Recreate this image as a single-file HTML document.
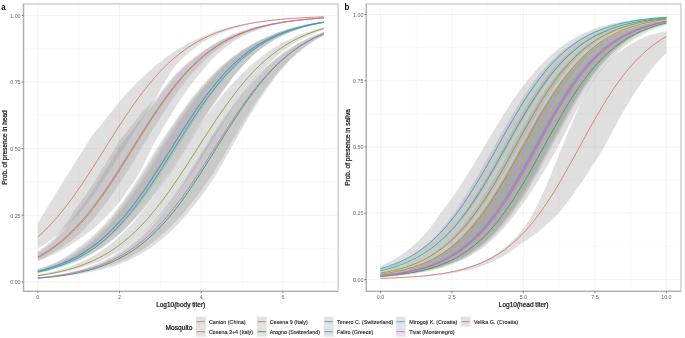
<!DOCTYPE html>
<html><head><meta charset="utf-8"><style>
html,body{margin:0;padding:0;background:#fff;width:685px;height:338px;overflow:hidden}
svg{display:block;filter:blur(0.35px)}
text{font-family:"Liberation Sans",sans-serif}
.gM{stroke:#ebebeb;stroke-width:0.6}
.gm{stroke:#f2f2f2;stroke-width:0.5}
.rb{fill:#999999;fill-opacity:0.31}
.kb{fill:#e2e2e6}
.ln{stroke-width:1.0;fill:none;stroke-opacity:0.85}
.bd{stroke:#cdcdcd;stroke-width:1.4}
.ax{stroke:#b0b0b0;stroke-width:1.3}
.tk{stroke:#555;stroke-width:0.7}
.tl{font-size:5.35px;fill:#6a6a6a}
.at{font-size:6.5px;fill:#111;stroke:#111;stroke-width:0.22px}
.pl{font-size:9.2px;font-weight:bold;fill:#000}
.lt{font-size:6.6px;fill:#111;stroke:#111;stroke-width:0.22px}
.ll{font-size:5.4px;fill:#222;stroke:#222;stroke-width:0.12px}
</style></head><body>
<svg width="685" height="338" viewBox="0 0 685 338">
<line x1="23.5" x2="338.1" y1="248.50" y2="248.50" class="gm"/>
<line x1="23.5" x2="338.1" y1="181.90" y2="181.90" class="gm"/>
<line x1="23.5" x2="338.1" y1="115.30" y2="115.30" class="gm"/>
<line x1="23.5" x2="338.1" y1="48.70" y2="48.70" class="gm"/>
<line x1="78.65" x2="78.65" y1="3.9" y2="291.4" class="gm"/>
<line x1="160.35" x2="160.35" y1="3.9" y2="291.4" class="gm"/>
<line x1="242.05" x2="242.05" y1="3.9" y2="291.4" class="gm"/>
<line x1="323.75" x2="323.75" y1="3.9" y2="291.4" class="gm"/>
<line x1="23.5" x2="338.1" y1="281.80" y2="281.80" class="gM"/>
<line x1="23.5" x2="338.1" y1="215.20" y2="215.20" class="gM"/>
<line x1="23.5" x2="338.1" y1="148.60" y2="148.60" class="gM"/>
<line x1="23.5" x2="338.1" y1="82.00" y2="82.00" class="gM"/>
<line x1="23.5" x2="338.1" y1="15.40" y2="15.40" class="gM"/>
<line x1="37.80" x2="37.80" y1="3.9" y2="291.4" class="gM"/>
<line x1="119.50" x2="119.50" y1="3.9" y2="291.4" class="gM"/>
<line x1="201.20" x2="201.20" y1="3.9" y2="291.4" class="gM"/>
<line x1="282.90" x2="282.90" y1="3.9" y2="291.4" class="gM"/>
<path d="M37.80,222.93 L40.18,219.17 L42.57,215.25 L44.95,211.16 L47.33,207.33 L49.71,203.67 L52.10,199.92 L54.48,196.07 L56.86,192.12 L59.25,188.09 L61.63,183.97 L64.01,180.21 L66.39,176.55 L68.78,172.86 L71.16,169.12 L73.54,165.36 L75.93,161.56 L78.31,157.75 L80.69,153.91 L83.08,150.07 L85.46,146.23 L87.84,142.39 L90.22,138.56 L92.61,135.34 L94.99,132.36 L97.37,129.41 L99.76,126.47 L102.14,123.55 L104.52,120.53 L106.90,117.45 L109.29,114.40 L111.67,111.39 L114.05,108.42 L116.44,105.49 L118.82,102.61 L121.20,99.78 L123.59,97.00 L125.97,94.33 L128.35,91.72 L130.73,89.15 L133.12,86.65 L135.50,84.19 L137.88,81.79 L140.27,79.45 L142.65,77.17 L145.03,74.92 L147.41,72.70 L149.80,70.54 L152.18,68.44 L154.56,66.40 L156.95,64.42 L159.33,62.50 L161.71,60.64 L164.09,58.84 L166.48,57.07 L168.86,55.34 L171.24,53.68 L173.63,52.07 L176.01,50.52 L178.39,49.03 L180.77,47.59 L183.16,46.21 L185.54,44.86 L187.92,43.55 L190.31,42.29 L192.69,41.08 L195.07,39.92 L197.46,38.81 L199.84,37.74 L202.22,36.69 L204.60,35.65 L206.99,34.65 L209.37,33.70 L211.75,32.79 L214.14,31.93 L216.52,31.10 L218.90,30.31 L221.28,29.56 L223.67,28.85 L226.05,28.17 L228.43,27.52 L230.82,26.91 L233.20,26.32 L235.58,25.76 L237.97,25.23 L240.35,24.73 L242.73,24.25 L245.11,23.78 L247.50,23.33 L249.88,22.91 L252.26,22.51 L254.65,22.13 L257.03,21.77 L259.41,21.43 L261.79,21.11 L264.18,20.80 L266.56,20.51 L268.94,20.24 L271.33,19.98 L273.71,19.73 L276.09,19.50 L278.47,19.28 L280.86,19.07 L283.24,18.87 L285.62,18.68 L288.01,18.50 L290.39,18.34 L292.77,18.18 L295.16,18.03 L297.54,17.88 L299.92,17.75 L302.30,17.62 L304.69,17.50 L307.07,17.39 L309.45,17.28 L311.84,17.18 L314.22,17.08 L316.60,16.99 L318.98,16.90 L321.37,16.82 L323.75,16.74 L323.75,16.91 L321.37,17.00 L318.98,17.10 L316.60,17.20 L314.22,17.31 L311.84,17.42 L309.45,17.54 L307.07,17.67 L304.69,17.80 L302.30,17.94 L299.92,18.09 L297.54,18.25 L295.16,18.42 L292.77,18.60 L290.39,18.79 L288.01,18.99 L285.62,19.20 L283.24,19.42 L280.86,19.66 L278.47,19.91 L276.09,20.17 L273.71,20.45 L271.33,20.75 L268.94,21.06 L266.56,21.39 L264.18,21.74 L261.79,22.11 L259.41,22.50 L257.03,22.91 L254.65,23.35 L252.26,23.81 L249.88,24.29 L247.50,24.81 L245.11,25.35 L242.73,25.92 L240.35,26.53 L237.97,27.19 L235.58,27.88 L233.20,28.61 L230.82,29.38 L228.43,30.20 L226.05,31.06 L223.67,31.96 L221.28,32.91 L218.90,33.92 L216.52,34.98 L214.14,36.09 L211.75,37.26 L209.37,38.49 L206.99,39.78 L204.60,41.14 L202.22,42.56 L199.84,44.12 L197.46,45.80 L195.07,47.57 L192.69,49.43 L190.31,51.37 L187.92,53.41 L185.54,55.55 L183.16,57.78 L180.77,60.11 L178.39,62.55 L176.01,65.09 L173.63,68.04 L171.24,71.57 L168.86,75.27 L166.48,79.14 L164.09,83.17 L161.71,87.37 L159.33,91.73 L156.95,96.25 L154.56,100.13 L152.18,103.79 L149.80,107.54 L147.41,111.35 L145.03,115.23 L142.65,118.97 L140.27,122.59 L137.88,126.25 L135.50,129.95 L133.12,133.68 L130.73,137.43 L128.35,141.20 L125.97,144.98 L123.59,148.77 L121.20,152.55 L118.82,156.34 L116.44,160.15 L114.05,163.94 L111.67,167.70 L109.29,171.43 L106.90,175.13 L104.52,178.78 L102.14,182.39 L99.76,185.94 L97.37,189.44 L94.99,192.87 L92.61,196.24 L90.22,199.55 L87.84,202.78 L85.46,205.93 L83.08,209.01 L80.69,212.01 L78.31,214.88 L75.93,217.35 L73.54,219.77 L71.16,222.12 L68.78,224.41 L66.39,226.63 L64.01,228.79 L61.63,230.88 L59.25,232.91 L56.86,234.88 L54.48,236.78 L52.10,238.66 L49.71,240.47 L47.33,242.22 L44.95,243.91 L42.57,245.54 L40.18,247.11 L37.80,248.62 Z" class="rb"/>
<path d="M37.80,252.99 L40.18,251.40 L42.57,249.73 L44.95,247.97 L47.33,246.14 L49.71,244.23 L52.10,242.23 L54.48,240.10 L56.86,237.68 L59.25,235.13 L61.63,232.48 L64.01,229.71 L66.39,226.83 L68.78,223.82 L71.16,220.70 L73.54,217.47 L75.93,214.12 L78.31,210.66 L80.69,207.42 L83.08,204.16 L85.46,200.82 L87.84,197.39 L90.22,193.89 L92.61,190.31 L94.99,186.67 L97.37,182.96 L99.76,179.20 L102.14,175.39 L104.52,171.52 L106.90,167.62 L109.29,163.69 L111.67,159.72 L114.05,155.74 L116.44,151.75 L118.82,147.75 L121.20,144.36 L123.59,141.24 L125.97,138.12 L128.35,135.01 L130.73,131.92 L133.12,128.84 L135.50,125.79 L137.88,122.76 L140.27,119.76 L142.65,116.79 L145.03,113.92 L147.41,111.20 L149.80,108.51 L152.18,105.85 L154.56,103.24 L156.95,100.39 L159.33,96.94 L161.71,93.56 L164.09,90.27 L166.48,87.07 L168.86,83.95 L171.24,80.92 L173.63,77.99 L176.01,75.33 L178.39,72.89 L180.77,70.53 L183.16,68.24 L185.54,66.02 L187.92,63.87 L190.31,61.79 L192.69,59.79 L195.07,57.85 L197.46,55.99 L199.84,54.19 L202.22,52.43 L204.60,50.72 L206.99,49.07 L209.37,47.49 L211.75,45.98 L214.14,44.52 L216.52,43.13 L218.90,41.80 L221.28,40.52 L223.67,39.30 L226.05,38.14 L228.43,37.02 L230.82,35.96 L233.20,34.94 L235.58,33.97 L237.97,33.05 L240.35,32.16 L242.73,31.31 L245.11,30.49 L247.50,29.70 L249.88,28.96 L252.26,28.25 L254.65,27.57 L257.03,26.93 L259.41,26.32 L261.79,25.75 L264.18,25.20 L266.56,24.68 L268.94,24.18 L271.33,23.72 L273.71,23.27 L276.09,22.85 L278.47,22.45 L280.86,22.07 L283.24,21.71 L285.62,21.38 L288.01,21.05 L290.39,20.75 L292.77,20.46 L295.16,20.19 L297.54,19.93 L299.92,19.68 L302.30,19.45 L304.69,19.23 L307.07,19.02 L309.45,18.83 L311.84,18.64 L314.22,18.46 L316.60,18.30 L318.98,18.14 L321.37,17.99 L323.75,17.85 L323.75,18.16 L321.37,18.32 L318.98,18.50 L316.60,18.68 L314.22,18.88 L311.84,19.09 L309.45,19.31 L307.07,19.54 L304.69,19.79 L302.30,20.05 L299.92,20.33 L297.54,20.62 L295.16,20.93 L292.77,21.26 L290.39,21.61 L288.01,21.98 L285.62,22.37 L283.24,22.78 L280.86,23.21 L278.47,23.67 L276.09,24.16 L273.71,24.67 L271.33,25.21 L268.94,25.78 L266.56,26.39 L264.18,27.03 L261.79,27.70 L259.41,28.41 L257.03,29.16 L254.65,29.95 L252.26,30.78 L249.88,31.66 L247.50,32.58 L245.11,33.55 L242.73,34.57 L240.35,35.66 L237.97,36.82 L235.58,38.03 L233.20,39.31 L230.82,40.65 L228.43,42.05 L226.05,43.53 L223.67,45.08 L221.28,46.70 L218.90,48.40 L216.52,50.17 L214.14,52.03 L211.75,53.97 L209.37,56.00 L206.99,58.11 L204.60,60.31 L202.22,62.59 L199.84,64.99 L197.46,67.48 L195.07,70.07 L192.69,72.75 L190.31,75.53 L187.92,78.40 L185.54,81.37 L183.16,84.42 L180.77,87.57 L178.39,90.81 L176.01,94.13 L173.63,97.54 L171.24,101.02 L168.86,104.58 L166.48,108.14 L164.09,111.75 L161.71,115.42 L159.33,119.15 L156.95,122.92 L154.56,126.74 L152.18,130.60 L149.80,134.48 L147.41,138.39 L145.03,142.32 L142.65,146.26 L140.27,150.20 L137.88,154.14 L135.50,158.07 L133.12,161.94 L130.73,165.79 L128.35,169.61 L125.97,173.40 L123.59,177.14 L121.20,180.84 L118.82,184.49 L116.44,188.07 L114.05,191.60 L111.67,195.06 L109.29,198.45 L106.90,201.77 L104.52,205.01 L102.14,208.17 L99.76,211.25 L97.37,214.25 L94.99,217.16 L92.61,219.99 L90.22,222.72 L87.84,225.37 L85.46,227.93 L83.08,230.41 L80.69,232.79 L78.31,235.06 L75.93,237.07 L73.54,239.02 L71.16,240.89 L68.78,242.69 L66.39,244.43 L64.01,246.10 L61.63,247.71 L59.25,249.26 L56.86,250.75 L54.48,252.17 L52.10,253.54 L49.71,254.86 L47.33,256.11 L44.95,257.32 L42.57,258.47 L40.18,259.58 L37.80,260.64 Z" class="rb"/>
<path d="M37.80,251.42 L40.18,249.75 L42.57,248.01 L44.95,246.19 L47.33,244.29 L49.71,242.30 L52.10,240.22 L54.48,237.99 L56.86,235.22 L59.25,232.32 L61.63,229.27 L64.01,226.09 L66.39,222.77 L68.78,219.31 L71.16,215.71 L73.54,211.98 L75.93,208.54 L78.31,205.34 L80.69,202.05 L83.08,198.68 L85.46,195.23 L87.84,191.72 L90.22,188.13 L92.61,184.48 L94.99,180.77 L97.37,177.01 L99.76,173.20 L102.14,169.35 L104.52,165.46 L106.90,161.54 L109.29,157.60 L111.67,153.64 L114.05,149.68 L116.44,145.71 L118.82,141.75 L121.20,138.45 L123.59,135.42 L125.97,132.41 L128.35,129.41 L130.73,126.44 L133.12,123.49 L135.50,120.56 L137.88,117.66 L140.27,114.79 L142.65,111.95 L145.03,109.35 L147.41,107.05 L149.80,104.78 L152.18,102.54 L154.56,100.33 L156.95,97.78 L159.33,94.40 L161.71,91.11 L164.09,87.90 L166.48,84.77 L168.86,81.74 L171.24,78.79 L173.63,75.93 L176.01,73.38 L178.39,71.05 L180.77,68.79 L183.16,66.60 L185.54,64.48 L187.92,62.43 L190.31,60.45 L192.69,58.54 L195.07,56.69 L197.46,54.90 L199.84,53.18 L202.22,51.48 L204.60,49.80 L206.99,48.18 L209.37,46.63 L211.75,45.14 L214.14,43.71 L216.52,42.35 L218.90,41.04 L221.28,39.79 L223.67,38.60 L226.05,37.46 L228.43,36.37 L230.82,35.33 L233.20,34.34 L235.58,33.39 L237.97,32.49 L240.35,31.62 L242.73,30.80 L245.11,30.01 L247.50,29.25 L249.88,28.54 L252.26,27.85 L254.65,27.21 L257.03,26.59 L259.41,26.01 L261.79,25.45 L264.18,24.92 L266.56,24.42 L268.94,23.95 L271.33,23.49 L273.71,23.07 L276.09,22.66 L278.47,22.27 L280.86,21.91 L283.24,21.56 L285.62,21.23 L288.01,20.92 L290.39,20.63 L292.77,20.35 L295.16,20.08 L297.54,19.83 L299.92,19.60 L302.30,19.37 L304.69,19.16 L307.07,18.96 L309.45,18.76 L311.84,18.58 L314.22,18.41 L316.60,18.25 L318.98,18.10 L321.37,17.95 L323.75,17.81 L323.75,18.20 L321.37,18.37 L318.98,18.56 L316.60,18.75 L314.22,18.96 L311.84,19.18 L309.45,19.42 L307.07,19.67 L304.69,19.93 L302.30,20.21 L299.92,20.51 L297.54,20.82 L295.16,21.15 L292.77,21.51 L290.39,21.88 L288.01,22.28 L285.62,22.70 L283.24,23.14 L280.86,23.61 L278.47,24.11 L276.09,24.64 L273.71,25.20 L271.33,25.79 L268.94,26.42 L266.56,27.08 L264.18,27.78 L261.79,28.52 L259.41,29.31 L257.03,30.13 L254.65,31.00 L252.26,31.92 L249.88,32.89 L247.50,33.92 L245.11,34.99 L242.73,36.13 L240.35,37.40 L237.97,38.78 L235.58,40.24 L233.20,41.78 L230.82,43.40 L228.43,45.11 L226.05,46.91 L223.67,48.81 L221.28,50.80 L218.90,52.89 L216.52,55.08 L214.14,57.38 L211.75,59.79 L209.37,62.30 L206.99,64.92 L204.60,67.66 L202.22,70.51 L199.84,73.47 L197.46,76.55 L195.07,79.54 L192.69,82.60 L190.31,85.75 L187.92,89.00 L185.54,92.34 L183.16,95.77 L180.77,99.28 L178.39,102.91 L176.01,106.62 L173.63,110.40 L171.24,114.25 L168.86,118.16 L166.48,122.13 L164.09,126.15 L161.71,130.21 L159.33,134.31 L156.95,138.44 L154.56,142.58 L152.18,146.74 L149.80,151.73 L147.41,156.71 L145.03,161.67 L142.65,166.59 L140.27,171.47 L137.88,175.32 L135.50,178.97 L133.12,182.58 L130.73,186.13 L128.35,189.62 L125.97,193.05 L123.59,196.42 L121.20,199.72 L118.82,202.81 L116.44,205.52 L114.05,208.16 L111.67,210.75 L109.29,213.28 L106.90,215.75 L104.52,218.16 L102.14,220.51 L99.76,222.80 L97.37,225.02 L94.99,227.19 L92.61,229.29 L90.22,231.27 L87.84,233.04 L85.46,234.76 L83.08,236.43 L80.69,238.06 L78.31,239.66 L75.93,241.34 L73.54,242.97 L71.16,244.53 L68.78,246.05 L66.39,247.51 L64.01,248.93 L61.63,250.29 L59.25,251.60 L56.86,252.83 L54.48,253.99 L52.10,255.11 L49.71,256.19 L47.33,257.23 L44.95,258.24 L42.57,259.20 L40.18,260.13 L37.80,261.02 Z" class="rb"/>
<path d="M37.80,270.64 L40.18,269.97 L42.57,269.25 L44.95,268.50 L47.33,267.70 L49.71,266.86 L52.10,265.97 L54.48,265.03 L56.86,264.04 L59.25,263.00 L61.63,261.90 L64.01,260.74 L66.39,259.52 L68.78,258.23 L71.16,256.88 L73.54,255.46 L75.93,253.97 L78.31,252.40 L80.69,250.76 L83.08,249.04 L85.46,247.23 L87.84,245.36 L90.22,243.44 L92.61,241.44 L94.99,239.35 L97.37,237.17 L99.76,234.90 L102.14,232.55 L104.52,230.10 L106.90,227.57 L109.29,224.94 L111.67,222.22 L114.05,219.41 L116.44,216.50 L118.82,213.51 L121.20,210.43 L123.59,207.26 L125.97,204.01 L128.35,200.70 L130.73,197.36 L133.12,193.95 L135.50,190.47 L137.88,186.93 L140.27,183.32 L142.65,179.66 L145.03,175.95 L147.41,172.20 L149.80,168.41 L152.18,164.58 L154.56,160.73 L156.95,156.85 L159.33,152.96 L161.71,149.07 L164.09,145.17 L166.48,141.28 L168.86,137.40 L171.24,133.54 L173.63,129.81 L176.01,126.23 L178.39,122.68 L180.77,119.18 L183.16,115.71 L185.54,112.30 L187.92,108.93 L190.31,105.62 L192.69,102.37 L195.07,99.17 L197.46,96.05 L199.84,92.99 L202.22,89.99 L204.60,87.08 L206.99,84.23 L209.37,81.46 L211.75,78.76 L214.14,76.14 L216.52,73.60 L218.90,71.14 L221.28,68.75 L223.67,66.56 L226.05,64.46 L228.43,62.43 L230.82,60.46 L233.20,58.56 L235.58,56.73 L237.97,54.96 L240.35,53.25 L242.73,51.60 L245.11,50.02 L247.50,48.49 L249.88,47.03 L252.26,45.62 L254.65,44.26 L257.03,42.96 L259.41,41.71 L261.79,40.51 L264.18,39.31 L266.56,38.15 L268.94,37.03 L271.33,35.97 L273.71,34.95 L276.09,33.99 L278.47,33.06 L280.86,32.18 L283.24,31.34 L285.62,30.54 L288.01,29.78 L290.39,29.05 L292.77,28.36 L295.16,27.70 L297.54,27.07 L299.92,26.48 L302.30,25.91 L304.69,25.37 L307.07,24.86 L309.45,24.37 L311.84,23.91 L314.22,23.47 L316.60,23.05 L318.98,22.66 L321.37,22.28 L323.75,21.92 L323.75,22.95 L321.37,23.40 L318.98,23.89 L316.60,24.40 L314.22,24.94 L311.84,25.52 L309.45,26.12 L307.07,26.76 L304.69,27.44 L302.30,28.16 L299.92,28.91 L297.54,29.71 L295.16,30.55 L292.77,31.44 L290.39,32.38 L288.01,33.37 L285.62,34.41 L283.24,35.51 L280.86,36.66 L278.47,37.88 L276.09,39.16 L273.71,40.50 L271.33,41.91 L268.94,43.40 L266.56,44.95 L264.18,46.58 L261.79,48.30 L259.41,50.16 L257.03,52.09 L254.65,54.12 L252.26,56.25 L249.88,58.46 L247.50,60.77 L245.11,63.18 L242.73,65.69 L240.35,68.30 L237.97,71.01 L235.58,73.82 L233.20,76.73 L230.82,79.74 L228.43,82.85 L226.05,86.06 L223.67,89.36 L221.28,92.72 L218.90,95.91 L216.52,99.17 L214.14,102.51 L211.75,105.91 L209.37,109.37 L206.99,112.89 L204.60,116.47 L202.22,120.10 L199.84,123.77 L197.46,127.49 L195.07,131.23 L192.69,135.01 L190.31,138.81 L187.92,142.62 L185.54,146.44 L183.16,150.27 L180.77,154.09 L178.39,157.91 L176.01,161.71 L173.63,165.48 L171.24,169.17 L168.86,172.77 L166.48,176.34 L164.09,179.86 L161.71,183.34 L159.33,186.77 L156.95,190.14 L154.56,193.46 L152.18,196.72 L149.80,199.91 L147.41,203.03 L145.03,206.08 L142.65,209.06 L140.27,211.97 L137.88,214.80 L135.50,217.55 L133.12,220.23 L130.73,222.82 L128.35,225.34 L125.97,227.78 L123.59,230.13 L121.20,232.41 L118.82,234.60 L116.44,236.68 L114.05,238.69 L111.67,240.62 L109.29,242.49 L106.90,244.28 L104.52,246.00 L102.14,247.66 L99.76,249.25 L97.37,250.78 L94.99,252.24 L92.61,253.64 L90.22,254.99 L87.84,256.28 L85.46,257.51 L83.08,258.68 L80.69,259.81 L78.31,260.89 L75.93,261.91 L73.54,262.89 L71.16,263.83 L68.78,264.72 L66.39,265.57 L64.01,266.38 L61.63,267.16 L59.25,267.89 L56.86,268.60 L54.48,269.26 L52.10,269.90 L49.71,270.50 L47.33,271.08 L44.95,271.63 L42.57,272.15 L40.18,272.64 L37.80,273.11 Z" class="rb"/>
<path d="M37.80,269.64 L40.18,268.91 L42.57,268.14 L44.95,267.33 L47.33,266.47 L49.71,265.56 L52.10,264.61 L54.48,263.60 L56.86,262.53 L59.25,261.41 L61.63,260.23 L64.01,258.99 L66.39,257.69 L68.78,256.31 L71.16,254.87 L73.54,253.36 L75.93,251.77 L78.31,250.10 L80.69,248.36 L83.08,246.53 L85.46,244.62 L87.84,242.64 L90.22,240.62 L92.61,238.50 L94.99,236.30 L97.37,234.01 L99.76,231.63 L102.14,229.17 L104.52,226.61 L106.90,223.96 L109.29,221.22 L111.67,218.39 L114.05,215.47 L116.44,212.46 L118.82,209.37 L121.20,206.19 L123.59,202.92 L125.97,199.58 L128.35,196.18 L130.73,192.76 L133.12,189.28 L135.50,185.73 L137.88,182.13 L140.27,178.47 L142.65,174.76 L145.03,171.01 L147.41,167.23 L149.80,163.41 L152.18,159.57 L154.56,155.71 L156.95,151.84 L159.33,147.96 L161.71,144.09 L164.09,140.22 L166.48,136.36 L168.86,132.53 L171.24,128.72 L173.63,125.08 L176.01,121.66 L178.39,118.28 L180.77,114.94 L183.16,111.64 L185.54,108.39 L187.92,105.19 L190.31,102.04 L192.69,98.96 L195.07,95.93 L197.46,92.97 L199.84,90.08 L202.22,87.25 L204.60,84.49 L206.99,81.79 L209.37,79.17 L211.75,76.63 L214.14,74.15 L216.52,71.75 L218.90,69.42 L221.28,67.16 L223.67,65.00 L226.05,62.92 L228.43,60.90 L230.82,58.95 L233.20,57.07 L235.58,55.26 L237.97,53.51 L240.35,51.83 L242.73,50.21 L245.11,48.65 L247.50,47.16 L249.88,45.72 L252.26,44.33 L254.65,43.01 L257.03,41.74 L259.41,40.52 L261.79,39.35 L264.18,38.19 L266.56,37.07 L268.94,36.01 L271.33,34.99 L273.71,34.02 L276.09,33.09 L278.47,32.20 L280.86,31.36 L283.24,30.56 L285.62,29.79 L288.01,29.07 L290.39,28.37 L292.77,27.71 L295.16,27.08 L297.54,26.49 L299.92,25.92 L302.30,25.38 L304.69,24.86 L307.07,24.38 L309.45,23.91 L311.84,23.47 L314.22,23.05 L316.60,22.66 L318.98,22.28 L321.37,21.92 L323.75,21.58 L323.75,22.62 L321.37,23.07 L318.98,23.55 L316.60,24.05 L314.22,24.58 L311.84,25.15 L309.45,25.74 L307.07,26.38 L304.69,27.05 L302.30,27.75 L299.92,28.50 L297.54,29.30 L295.16,30.13 L292.77,31.02 L290.39,31.95 L288.01,32.94 L285.62,33.98 L283.24,35.08 L280.86,36.23 L278.47,37.45 L276.09,38.74 L273.71,40.09 L271.33,41.51 L268.94,43.00 L266.56,44.57 L264.18,46.21 L261.79,47.96 L259.41,49.86 L257.03,51.85 L254.65,53.93 L252.26,56.12 L249.88,58.40 L247.50,60.79 L245.11,63.28 L242.73,65.87 L240.35,68.58 L237.97,71.38 L235.58,74.30 L233.20,77.33 L230.82,80.46 L228.43,83.69 L226.05,87.03 L223.67,90.47 L221.28,93.97 L218.90,97.25 L216.52,100.61 L214.14,104.05 L211.75,107.55 L209.37,111.11 L206.99,114.74 L204.60,118.41 L202.22,122.14 L199.84,125.91 L197.46,129.72 L195.07,133.56 L192.69,137.43 L190.31,141.31 L187.92,145.21 L185.54,149.12 L183.16,153.02 L180.77,156.91 L178.39,160.80 L176.01,164.66 L173.63,168.49 L171.24,172.10 L168.86,175.54 L166.48,178.95 L164.09,182.31 L161.71,185.62 L159.33,188.89 L156.95,192.11 L154.56,195.26 L152.18,198.37 L149.80,201.40 L147.41,204.38 L145.03,207.29 L142.65,210.13 L140.27,212.90 L137.88,215.60 L135.50,218.23 L133.12,220.79 L130.73,223.27 L128.35,225.68 L125.97,228.02 L123.59,230.28 L121.20,232.47 L118.82,234.57 L116.44,236.55 L114.05,238.47 L111.67,240.32 L109.29,242.11 L106.90,243.83 L104.52,245.49 L102.14,247.09 L99.76,248.62 L97.37,250.10 L94.99,251.52 L92.61,252.89 L90.22,254.20 L87.84,255.46 L85.46,256.67 L83.08,257.82 L80.69,258.93 L78.31,259.99 L75.93,261.01 L73.54,261.98 L71.16,262.92 L68.78,263.81 L66.39,264.66 L64.01,265.47 L61.63,266.25 L59.25,266.99 L56.86,267.70 L54.48,268.38 L52.10,269.03 L49.71,269.64 L47.33,270.23 L44.95,270.79 L42.57,271.33 L40.18,271.84 L37.80,272.32 Z" class="rb"/>
<path d="M37.80,269.04 L40.18,268.29 L42.57,267.50 L44.95,266.66 L47.33,265.77 L49.71,264.84 L52.10,263.85 L54.48,262.81 L56.86,261.72 L59.25,260.52 L61.63,259.19 L64.01,257.78 L66.39,256.30 L68.78,254.73 L71.16,253.07 L73.54,251.33 L75.93,249.50 L78.31,247.57 L80.69,245.78 L83.08,243.96 L85.46,242.05 L87.84,240.07 L90.22,238.01 L92.61,235.86 L94.99,233.64 L97.37,231.33 L99.76,228.94 L102.14,226.46 L104.52,223.90 L106.90,221.25 L109.29,218.52 L111.67,215.71 L114.05,212.81 L116.44,209.83 L118.82,206.78 L121.20,203.56 L123.59,200.23 L125.97,196.83 L128.35,193.35 L130.73,189.81 L133.12,186.19 L135.50,182.52 L137.88,178.79 L140.27,175.00 L142.65,171.18 L145.03,167.31 L147.41,163.42 L149.80,159.49 L152.18,155.55 L154.56,151.59 L156.95,147.74 L159.33,144.15 L161.71,140.56 L164.09,136.99 L166.48,133.43 L168.86,129.90 L171.24,126.39 L173.63,122.91 L176.01,119.47 L178.39,116.07 L180.77,112.71 L183.16,109.40 L185.54,106.15 L187.92,102.95 L190.31,99.85 L192.69,96.86 L195.07,93.92 L197.46,91.04 L199.84,88.23 L202.22,85.49 L204.60,82.81 L206.99,80.20 L209.37,77.66 L211.75,75.19 L214.14,72.79 L216.52,70.46 L218.90,68.20 L221.28,66.02 L223.67,63.95 L226.05,61.95 L228.43,60.03 L230.82,58.16 L233.20,56.36 L235.58,54.62 L237.97,52.95 L240.35,51.33 L242.73,49.77 L245.11,48.27 L247.50,46.83 L249.88,45.44 L252.26,44.11 L254.65,42.83 L257.03,41.60 L259.41,40.42 L261.79,39.28 L264.18,38.15 L266.56,37.05 L268.94,36.00 L271.33,34.99 L273.71,34.03 L276.09,33.11 L278.47,32.24 L280.86,31.40 L283.24,30.61 L285.62,29.85 L288.01,29.13 L290.39,28.44 L292.77,27.78 L295.16,27.16 L297.54,26.57 L299.92,26.00 L302.30,25.46 L304.69,24.95 L307.07,24.47 L309.45,24.00 L311.84,23.56 L314.22,23.15 L316.60,22.75 L318.98,22.37 L321.37,22.01 L323.75,21.67 L323.75,22.59 L321.37,23.01 L318.98,23.45 L316.60,23.92 L314.22,24.42 L311.84,24.94 L309.45,25.49 L307.07,26.08 L304.69,26.69 L302.30,27.34 L299.92,28.03 L297.54,28.75 L295.16,29.51 L292.77,30.31 L290.39,31.15 L288.01,32.04 L285.62,32.98 L283.24,33.96 L280.86,35.00 L278.47,36.08 L276.09,37.23 L273.71,38.43 L271.33,39.69 L268.94,41.01 L266.56,42.39 L264.18,43.84 L261.79,45.36 L259.41,46.94 L257.03,48.59 L254.65,50.31 L252.26,52.11 L249.88,53.98 L247.50,55.94 L245.11,57.97 L242.73,60.09 L240.35,62.29 L237.97,64.58 L235.58,66.95 L233.20,69.40 L230.82,71.95 L228.43,74.57 L226.05,77.29 L223.67,80.09 L221.28,82.97 L218.90,85.93 L216.52,88.97 L214.14,92.09 L211.75,95.29 L209.37,98.56 L206.99,101.91 L204.60,105.32 L202.22,108.80 L199.84,112.33 L197.46,115.93 L195.07,119.57 L192.69,123.27 L190.31,127.00 L187.92,130.77 L185.54,134.56 L183.16,138.38 L180.77,142.22 L178.39,146.07 L176.01,149.92 L173.63,153.77 L171.24,157.58 L168.86,161.34 L166.48,165.08 L164.09,168.80 L161.71,172.48 L159.33,176.13 L156.95,179.73 L154.56,183.29 L152.18,186.79 L149.80,190.24 L147.41,193.63 L145.03,196.95 L142.65,200.20 L140.27,203.39 L137.88,206.50 L135.50,209.53 L133.12,212.49 L130.73,215.36 L128.35,218.16 L125.97,220.87 L123.59,223.50 L121.20,226.05 L118.82,228.50 L116.44,230.84 L114.05,233.10 L111.67,235.27 L109.29,237.37 L106.90,239.40 L104.52,241.35 L102.14,243.22 L99.76,245.02 L97.37,246.75 L94.99,248.42 L92.61,250.01 L90.22,251.54 L87.84,253.00 L85.46,254.40 L83.08,255.74 L80.69,257.02 L78.31,258.24 L75.93,259.41 L73.54,260.53 L71.16,261.59 L68.78,262.61 L66.39,263.58 L64.01,264.50 L61.63,265.38 L59.25,266.22 L56.86,267.02 L54.48,267.77 L52.10,268.50 L49.71,269.18 L47.33,269.84 L44.95,270.46 L42.57,271.05 L40.18,271.61 L37.80,272.14 Z" class="rb"/>
<path d="M37.80,274.71 L40.18,274.30 L42.57,273.85 L44.95,273.39 L47.33,272.89 L49.71,272.37 L52.10,271.82 L54.48,271.24 L56.86,270.63 L59.25,269.98 L61.63,269.30 L64.01,268.57 L66.39,267.81 L68.78,267.01 L71.16,266.17 L73.54,265.28 L75.93,264.34 L78.31,263.35 L80.69,262.32 L83.08,261.23 L85.46,260.08 L87.84,258.87 L90.22,257.61 L92.61,256.28 L94.99,254.89 L97.37,253.43 L99.76,251.90 L102.14,250.30 L104.52,248.63 L106.90,246.88 L109.29,245.05 L111.67,243.15 L114.05,241.16 L116.44,239.09 L118.82,236.93 L121.20,234.72 L123.59,232.44 L125.97,230.07 L128.35,227.61 L130.73,225.07 L133.12,222.45 L135.50,219.74 L137.88,216.94 L140.27,214.06 L142.65,211.10 L145.03,208.05 L147.41,204.93 L149.80,201.73 L152.18,198.45 L154.56,195.10 L156.95,191.69 L159.33,188.21 L161.71,184.67 L164.09,181.07 L166.48,177.42 L168.86,173.73 L171.24,169.99 L173.63,166.22 L176.01,162.42 L178.39,158.60 L180.77,154.76 L183.16,150.92 L185.54,147.06 L187.92,143.22 L190.31,139.37 L192.69,135.55 L195.07,131.75 L197.46,128.03 L199.84,124.72 L202.22,121.43 L204.60,118.18 L206.99,114.96 L209.37,111.79 L211.75,108.66 L214.14,105.58 L216.52,102.55 L218.90,99.57 L221.28,96.65 L223.67,93.79 L226.05,90.99 L228.43,88.24 L230.82,85.56 L233.20,82.95 L235.58,80.40 L237.97,77.91 L240.35,75.50 L242.73,73.13 L245.11,70.79 L247.50,68.52 L249.88,66.32 L252.26,64.20 L254.65,62.14 L257.03,60.15 L259.41,58.23 L261.79,56.38 L264.18,54.59 L266.56,52.87 L268.94,51.21 L271.33,49.61 L273.71,48.08 L276.09,46.60 L278.47,45.18 L280.86,43.82 L283.24,42.52 L285.62,41.26 L288.01,40.06 L290.39,38.91 L292.77,37.81 L295.16,36.76 L297.54,35.75 L299.92,34.78 L302.30,33.86 L304.69,32.98 L307.07,32.14 L309.45,31.33 L311.84,30.56 L314.22,29.83 L316.60,29.13 L318.98,28.46 L321.37,27.83 L323.75,27.22 L323.75,29.69 L321.37,30.51 L318.98,31.37 L316.60,32.28 L314.22,33.24 L311.84,34.24 L309.45,35.30 L307.07,36.42 L304.69,37.58 L302.30,38.81 L299.92,40.10 L297.54,41.45 L295.16,42.87 L292.77,44.36 L290.39,45.91 L288.01,47.54 L285.62,49.25 L283.24,51.02 L280.86,52.88 L278.47,54.82 L276.09,56.84 L273.71,58.94 L271.33,61.13 L268.94,63.41 L266.56,65.77 L264.18,68.22 L261.79,70.76 L259.41,73.39 L257.03,76.11 L254.65,78.91 L252.26,81.81 L249.88,84.79 L247.50,87.85 L245.11,91.00 L242.73,94.23 L240.35,97.53 L237.97,100.90 L235.58,104.34 L233.20,107.85 L230.82,111.42 L228.43,115.05 L226.05,118.73 L223.67,122.47 L221.28,126.24 L218.90,130.06 L216.52,133.90 L214.14,137.77 L211.75,141.66 L209.37,145.56 L206.99,149.47 L204.60,153.37 L202.22,157.27 L199.84,161.15 L197.46,165.01 L195.07,168.61 L192.69,172.14 L190.31,175.63 L187.92,179.09 L185.54,182.51 L183.16,185.87 L180.77,189.19 L178.39,192.45 L176.01,195.66 L173.63,198.80 L171.24,201.88 L168.86,204.90 L166.48,207.84 L164.09,210.71 L161.71,213.52 L159.33,216.25 L156.95,218.90 L154.56,221.48 L152.18,223.98 L149.80,226.41 L147.41,228.76 L145.03,231.04 L142.65,233.24 L140.27,235.36 L137.88,237.41 L135.50,239.39 L133.12,241.30 L130.73,243.13 L128.35,244.90 L125.97,246.60 L123.59,248.23 L121.20,249.79 L118.82,251.29 L116.44,252.69 L114.05,254.04 L111.67,255.33 L109.29,256.57 L106.90,257.76 L104.52,258.89 L102.14,259.98 L99.76,261.02 L97.37,262.02 L94.99,262.97 L92.61,263.87 L90.22,264.74 L87.84,265.57 L85.46,266.36 L83.08,267.11 L80.69,267.83 L78.31,268.52 L75.93,269.17 L73.54,269.80 L71.16,270.39 L68.78,270.96 L66.39,271.50 L64.01,272.01 L61.63,272.50 L59.25,272.96 L56.86,273.40 L54.48,273.83 L52.10,274.23 L49.71,274.61 L47.33,274.97 L44.95,275.31 L42.57,275.64 L40.18,275.95 L37.80,276.25 Z" class="rb"/>
<path d="M37.80,277.86 L40.18,277.62 L42.57,277.37 L44.95,277.10 L47.33,276.81 L49.71,276.51 L52.10,276.19 L54.48,275.85 L56.86,275.49 L59.25,275.11 L61.63,274.71 L64.01,274.28 L66.39,273.83 L68.78,273.35 L71.16,272.85 L73.54,272.31 L75.93,271.75 L78.31,271.15 L80.69,270.52 L83.08,269.85 L85.46,269.15 L87.84,268.40 L90.22,267.62 L92.61,266.79 L94.99,265.91 L97.37,264.99 L99.76,264.02 L102.14,263.00 L104.52,261.92 L106.90,260.78 L109.29,259.59 L111.67,258.34 L114.05,257.02 L116.44,255.64 L118.82,254.18 L121.20,252.68 L123.59,251.10 L125.97,249.46 L128.35,247.73 L130.73,245.93 L133.12,244.05 L135.50,242.09 L137.88,240.05 L140.27,237.92 L142.65,235.70 L145.03,233.40 L147.41,231.01 L149.80,228.52 L152.18,225.95 L154.56,223.29 L156.95,220.54 L159.33,217.70 L161.71,214.77 L164.09,211.75 L166.48,208.65 L168.86,205.46 L171.24,202.20 L173.63,198.85 L176.01,195.43 L178.39,191.93 L180.77,188.37 L183.16,184.74 L185.54,181.06 L187.92,177.32 L190.31,173.53 L192.69,169.70 L195.07,165.83 L197.46,161.94 L199.84,158.02 L202.22,154.09 L204.60,150.14 L206.99,146.19 L209.37,142.25 L211.75,138.32 L214.14,134.49 L216.52,130.89 L218.90,127.32 L221.28,123.77 L223.67,120.27 L226.05,116.80 L228.43,113.38 L230.82,110.01 L233.20,106.69 L235.58,103.43 L237.97,100.23 L240.35,97.09 L242.73,94.02 L245.11,91.01 L247.50,88.08 L249.88,85.22 L252.26,82.43 L254.65,79.72 L257.03,77.08 L259.41,74.52 L261.79,72.04 L264.18,69.66 L266.56,67.37 L268.94,65.15 L271.33,63.01 L273.71,60.94 L276.09,58.94 L278.47,57.02 L280.86,55.16 L283.24,53.37 L285.62,51.65 L288.01,50.00 L290.39,48.41 L292.77,46.88 L295.16,45.42 L297.54,44.01 L299.92,42.67 L302.30,41.38 L304.69,40.14 L307.07,38.96 L309.45,37.83 L311.84,36.74 L314.22,35.71 L316.60,34.72 L318.98,33.78 L321.37,32.88 L323.75,32.02 L323.75,35.42 L321.37,36.66 L318.98,37.96 L316.60,39.33 L314.22,40.78 L311.84,42.30 L309.45,43.91 L307.07,45.60 L304.69,47.38 L302.30,49.25 L299.92,51.21 L297.54,53.26 L295.16,55.41 L292.77,57.67 L290.39,60.02 L288.01,62.48 L285.62,65.04 L283.24,67.71 L280.86,70.48 L278.47,73.37 L276.09,76.36 L273.71,79.45 L271.33,82.66 L268.94,85.96 L266.56,89.37 L264.18,92.88 L261.79,96.47 L259.41,100.10 L257.03,103.81 L254.65,107.61 L252.26,111.48 L249.88,115.42 L247.50,119.42 L245.11,123.48 L242.73,127.59 L240.35,131.74 L237.97,135.92 L235.58,140.13 L233.20,144.35 L230.82,148.58 L228.43,152.82 L226.05,157.04 L223.67,161.25 L221.28,165.43 L218.90,169.58 L216.52,173.69 L214.14,177.75 L211.75,181.38 L209.37,184.81 L206.99,188.19 L204.60,191.51 L202.22,194.78 L199.84,197.98 L197.46,201.12 L195.07,204.19 L192.69,207.19 L190.31,210.12 L187.92,212.98 L185.54,215.76 L183.16,218.46 L180.77,221.09 L178.39,223.64 L176.01,226.11 L173.63,228.50 L171.24,230.82 L168.86,233.05 L166.48,235.21 L164.09,237.30 L161.71,239.31 L159.33,241.24 L156.95,243.11 L154.56,244.90 L152.18,246.62 L149.80,248.27 L147.41,249.85 L145.03,251.37 L142.65,252.83 L140.27,254.23 L137.88,255.56 L135.50,256.84 L133.12,258.06 L130.73,259.23 L128.35,260.34 L125.97,261.41 L123.59,262.42 L121.20,263.39 L118.82,264.30 L116.44,265.13 L114.05,265.92 L111.67,266.68 L109.29,267.40 L106.90,268.09 L104.52,268.75 L102.14,269.38 L99.76,269.98 L97.37,270.56 L94.99,271.10 L92.61,271.62 L90.22,272.12 L87.84,272.59 L85.46,273.04 L83.08,273.47 L80.69,273.88 L78.31,274.27 L75.93,274.64 L73.54,274.99 L71.16,275.33 L68.78,275.65 L66.39,275.95 L64.01,276.24 L61.63,276.52 L59.25,276.78 L56.86,277.03 L54.48,277.27 L52.10,277.49 L49.71,277.71 L47.33,277.91 L44.95,278.11 L42.57,278.29 L40.18,278.47 L37.80,278.63 Z" class="rb"/>
<path d="M37.80,277.37 L40.18,277.11 L42.57,276.83 L44.95,276.53 L47.33,276.22 L49.71,275.88 L52.10,275.53 L54.48,275.16 L56.86,274.77 L59.25,274.35 L61.63,273.91 L64.01,273.45 L66.39,272.96 L68.78,272.44 L71.16,271.89 L73.54,271.31 L75.93,270.70 L78.31,270.05 L80.69,269.37 L83.08,268.66 L85.46,267.90 L87.84,267.10 L90.22,266.26 L92.61,265.37 L94.99,264.44 L97.37,263.45 L99.76,262.42 L102.14,261.33 L104.52,260.19 L106.90,258.98 L109.29,257.72 L111.67,256.40 L114.05,255.01 L116.44,253.55 L118.82,252.03 L121.20,250.45 L123.59,248.81 L125.97,247.10 L128.35,245.31 L130.73,243.45 L133.12,241.50 L135.50,239.48 L137.88,237.38 L140.27,235.19 L142.65,232.92 L145.03,230.56 L147.41,228.12 L149.80,225.59 L152.18,222.98 L154.56,220.28 L156.95,217.49 L159.33,214.62 L161.71,211.67 L164.09,208.63 L166.48,205.52 L168.86,202.32 L171.24,199.05 L173.63,195.71 L176.01,192.30 L178.39,188.82 L180.77,185.28 L183.16,181.69 L185.54,178.04 L187.92,174.35 L190.31,170.61 L192.69,166.84 L195.07,163.03 L197.46,159.21 L199.84,155.36 L202.22,151.51 L204.60,147.65 L206.99,143.79 L209.37,139.94 L211.75,136.10 L214.14,132.36 L216.52,128.81 L218.90,125.29 L221.28,121.80 L223.67,118.36 L226.05,114.95 L228.43,111.59 L230.82,108.28 L233.20,105.02 L235.58,101.83 L237.97,98.69 L240.35,95.61 L242.73,92.60 L245.11,89.66 L247.50,86.79 L249.88,83.99 L252.26,81.26 L254.65,78.61 L257.03,76.03 L259.41,73.53 L261.79,71.10 L264.18,68.79 L266.56,66.57 L268.94,64.42 L271.33,62.35 L273.71,60.34 L276.09,58.40 L278.47,56.53 L280.86,54.73 L283.24,52.99 L285.62,51.32 L288.01,49.71 L290.39,48.16 L292.77,46.67 L295.16,45.24 L297.54,43.87 L299.92,42.56 L302.30,41.29 L304.69,40.09 L307.07,38.93 L309.45,37.82 L311.84,36.76 L314.22,35.74 L316.60,34.77 L318.98,33.85 L321.37,32.96 L323.75,32.11 L323.75,35.53 L321.37,36.73 L318.98,37.99 L316.60,39.32 L314.22,40.71 L311.84,42.18 L309.45,43.73 L307.07,45.35 L304.69,47.05 L302.30,48.84 L299.92,50.71 L297.54,52.67 L295.16,54.72 L292.77,56.86 L290.39,59.10 L288.01,61.43 L285.62,63.86 L283.24,66.39 L280.86,69.02 L278.47,71.75 L276.09,74.57 L273.71,77.50 L271.33,80.53 L268.94,83.66 L266.56,86.88 L264.18,90.20 L261.79,93.59 L259.41,97.03 L257.03,100.56 L254.65,104.17 L252.26,107.85 L249.88,111.60 L247.50,115.41 L245.11,119.29 L242.73,123.21 L240.35,127.18 L237.97,131.20 L235.58,135.24 L233.20,139.31 L230.82,143.40 L228.43,147.50 L226.05,151.60 L223.67,155.69 L221.28,159.77 L218.90,163.83 L216.52,167.86 L214.14,171.86 L211.75,175.47 L209.37,178.91 L206.99,182.31 L204.60,185.66 L202.22,188.97 L199.84,192.21 L197.46,195.41 L195.07,198.54 L192.69,201.61 L190.31,204.61 L187.92,207.54 L185.54,210.41 L183.16,213.20 L180.77,215.93 L178.39,218.58 L176.01,221.15 L173.63,223.65 L171.24,226.07 L168.86,228.42 L166.48,230.70 L164.09,232.90 L161.71,235.02 L159.33,237.08 L156.95,239.06 L154.56,240.96 L152.18,242.80 L149.80,244.57 L147.41,246.27 L145.03,247.91 L142.65,249.48 L140.27,250.98 L137.88,252.43 L135.50,253.81 L133.12,255.14 L130.73,256.41 L128.35,257.63 L125.97,258.80 L123.59,259.91 L121.20,260.97 L118.82,261.98 L116.44,262.92 L114.05,263.82 L111.67,264.67 L109.29,265.49 L106.90,266.28 L104.52,267.02 L102.14,267.74 L99.76,268.42 L97.37,269.07 L94.99,269.69 L92.61,270.28 L90.22,270.84 L87.84,271.38 L85.46,271.89 L83.08,272.38 L80.69,272.84 L78.31,273.28 L75.93,273.70 L73.54,274.11 L71.16,274.49 L68.78,274.85 L66.39,275.20 L64.01,275.52 L61.63,275.84 L59.25,276.13 L56.86,276.42 L54.48,276.69 L52.10,276.94 L49.71,277.19 L47.33,277.42 L44.95,277.64 L42.57,277.85 L40.18,278.04 L37.80,278.23 Z" class="rb"/>
<path d="M37.80,237.05 L40.18,234.89 L42.57,232.65 L44.95,230.33 L47.33,227.93 L49.71,225.44 L52.10,222.88 L54.48,220.22 L56.86,217.49 L59.25,214.67 L61.63,211.78 L64.01,208.80 L66.39,205.75 L68.78,202.62 L71.16,199.42 L73.54,196.15 L75.93,192.81 L78.31,189.41 L80.69,185.95 L83.08,182.43 L85.46,178.86 L87.84,175.25 L90.22,171.59 L92.61,167.90 L94.99,164.18 L97.37,160.43 L99.76,156.67 L102.14,152.89 L104.52,149.10 L106.90,145.31 L109.29,141.53 L111.67,137.76 L114.05,134.01 L116.44,130.28 L118.82,126.58 L121.20,122.91 L123.59,119.28 L125.97,115.70 L128.35,112.17 L130.73,108.70 L133.12,105.28 L135.50,101.92 L137.88,98.63 L140.27,95.41 L142.65,92.27 L145.03,89.19 L147.41,86.20 L149.80,83.28 L152.18,80.44 L154.56,77.69 L156.95,75.02 L159.33,72.43 L161.71,69.92 L164.09,67.49 L166.48,65.15 L168.86,62.89 L171.24,60.71 L173.63,58.61 L176.01,56.59 L178.39,54.65 L180.77,52.79 L183.16,50.99 L185.54,49.28 L187.92,47.63 L190.31,46.05 L192.69,44.54 L195.07,43.10 L197.46,41.72 L199.84,40.40 L202.22,39.14 L204.60,37.94 L206.99,36.79 L209.37,35.70 L211.75,34.66 L214.14,33.67 L216.52,32.72 L218.90,31.83 L221.28,30.97 L223.67,30.16 L226.05,29.38 L228.43,28.65 L230.82,27.95 L233.20,27.29 L235.58,26.66 L237.97,26.06 L240.35,25.49 L242.73,24.96 L245.11,24.45 L247.50,23.96 L249.88,23.50 L252.26,23.07 L254.65,22.66 L257.03,22.26 L259.41,21.89 L261.79,21.54 L264.18,21.21 L266.56,20.90 L268.94,20.60 L271.33,20.32 L273.71,20.05 L276.09,19.80 L278.47,19.56 L280.86,19.33 L283.24,19.12 L285.62,18.91 L288.01,18.72 L290.39,18.54 L292.77,18.37 L295.16,18.21 L297.54,18.05 L299.92,17.91 L302.30,17.77 L304.69,17.64 L307.07,17.52 L309.45,17.40 L311.84,17.29 L314.22,17.19 L316.60,17.09 L318.98,17.00 L321.37,16.91 L323.75,16.83" stroke="#cf746e" class="ln"/>
<path d="M37.80,257.74 L40.18,256.45 L42.57,255.09 L44.95,253.67 L47.33,252.19 L49.71,250.63 L52.10,249.01 L54.48,247.31 L56.86,245.54 L59.25,243.69 L61.63,241.77 L64.01,239.76 L66.39,237.68 L68.78,235.51 L71.16,233.26 L73.54,230.93 L75.93,228.51 L78.31,226.00 L80.69,223.41 L83.08,220.74 L85.46,217.98 L87.84,215.13 L90.22,212.20 L92.61,209.19 L94.99,206.10 L97.37,202.94 L99.76,199.69 L102.14,196.38 L104.52,192.99 L106.90,189.54 L109.29,186.03 L111.67,182.46 L114.05,178.83 L116.44,175.16 L118.82,171.45 L121.20,167.70 L123.59,163.92 L125.97,160.11 L128.35,156.28 L130.73,152.45 L133.12,148.60 L135.50,144.75 L137.88,140.92 L140.27,137.09 L142.65,133.28 L145.03,129.50 L147.41,125.75 L149.80,122.04 L152.18,118.37 L154.56,114.74 L156.95,111.17 L159.33,107.66 L161.71,104.21 L164.09,100.82 L166.48,97.51 L168.86,94.26 L171.24,91.10 L173.63,88.01 L176.01,85.00 L178.39,82.07 L180.77,79.22 L183.16,76.46 L185.54,73.79 L187.92,71.20 L190.31,68.69 L192.69,66.27 L195.07,63.94 L197.46,61.69 L199.84,59.52 L202.22,57.44 L204.60,55.43 L206.99,53.51 L209.37,51.66 L211.75,49.89 L214.14,48.19 L216.52,46.57 L218.90,45.01 L221.28,43.53 L223.67,42.11 L226.05,40.75 L228.43,39.46 L230.82,38.22 L233.20,37.04 L235.58,35.92 L237.97,34.86 L240.35,33.84 L242.73,32.87 L245.11,31.95 L247.50,31.08 L249.88,30.25 L252.26,29.46 L254.65,28.71 L257.03,28.00 L259.41,27.32 L261.79,26.68 L264.18,26.07 L266.56,25.50 L268.94,24.95 L271.33,24.43 L273.71,23.94 L276.09,23.48 L278.47,23.04 L280.86,22.62 L283.24,22.23 L285.62,21.85 L288.01,21.50 L290.39,21.16 L292.77,20.85 L295.16,20.55 L297.54,20.26 L299.92,20.00 L302.30,19.74 L304.69,19.50 L307.07,19.28 L309.45,19.06 L311.84,18.86 L314.22,18.67 L316.60,18.49 L318.98,18.31 L321.37,18.15 L323.75,18.00" stroke="#b58822" class="ln"/>
<path d="M37.80,275.68 L40.18,275.33 L42.57,274.97 L44.95,274.59 L47.33,274.19 L49.71,273.76 L52.10,273.31 L54.48,272.84 L56.86,272.34 L59.25,271.82 L61.63,271.27 L64.01,270.68 L66.39,270.07 L68.78,269.43 L71.16,268.75 L73.54,268.04 L75.93,267.29 L78.31,266.50 L80.69,265.67 L83.08,264.80 L85.46,263.89 L87.84,262.93 L90.22,261.92 L92.61,260.87 L94.99,259.76 L97.37,258.61 L99.76,257.39 L102.14,256.12 L104.52,254.79 L106.90,253.40 L109.29,251.95 L111.67,250.43 L114.05,248.85 L116.44,247.20 L118.82,245.48 L121.20,243.69 L123.59,241.82 L125.97,239.88 L128.35,237.86 L130.73,235.77 L133.12,233.60 L135.50,231.35 L137.88,229.02 L140.27,226.61 L142.65,224.12 L145.03,221.55 L147.41,218.89 L149.80,216.16 L152.18,213.35 L154.56,210.47 L156.95,207.51 L159.33,204.47 L161.71,201.36 L164.09,198.18 L166.48,194.93 L168.86,191.62 L171.24,188.25 L173.63,184.83 L176.01,181.35 L178.39,177.82 L180.77,174.25 L183.16,170.64 L185.54,167.00 L187.92,163.32 L190.31,159.63 L192.69,155.92 L195.07,152.20 L197.46,148.47 L199.84,144.74 L202.22,141.02 L204.60,137.31 L206.99,133.61 L209.37,129.94 L211.75,126.30 L214.14,122.69 L216.52,119.13 L218.90,115.60 L221.28,112.13 L223.67,108.70 L226.05,105.34 L228.43,102.03 L230.82,98.79 L233.20,95.62 L235.58,92.51 L237.97,89.48 L240.35,86.52 L242.73,83.64 L245.11,80.84 L247.50,78.11 L249.88,75.47 L252.26,72.90 L254.65,70.42 L257.03,68.01 L259.41,65.69 L261.79,63.44 L264.18,61.28 L266.56,59.19 L268.94,57.18 L271.33,55.24 L273.71,53.38 L276.09,51.60 L278.47,49.88 L280.86,48.23 L283.24,46.66 L285.62,45.14 L288.01,43.70 L290.39,42.31 L292.77,40.99 L295.16,39.72 L297.54,38.51 L299.92,37.35 L302.30,36.25 L304.69,35.20 L307.07,34.20 L309.45,33.24 L311.84,32.33 L314.22,31.47 L316.60,30.64 L318.98,29.86 L321.37,29.11 L323.75,28.40" stroke="#889922" class="ln"/>
<path d="M37.80,278.30 L40.18,278.10 L42.57,277.88 L44.95,277.65 L47.33,277.41 L49.71,277.15 L52.10,276.88 L54.48,276.60 L56.86,276.29 L59.25,275.97 L61.63,275.63 L64.01,275.28 L66.39,274.90 L68.78,274.50 L71.16,274.08 L73.54,273.63 L75.93,273.16 L78.31,272.67 L80.69,272.14 L83.08,271.59 L85.46,271.01 L87.84,270.40 L90.22,269.75 L92.61,269.07 L94.99,268.35 L97.37,267.59 L99.76,266.79 L102.14,265.95 L104.52,265.07 L106.90,264.14 L109.29,263.17 L111.67,262.14 L114.05,261.06 L116.44,259.93 L118.82,258.74 L121.20,257.50 L123.59,256.19 L125.97,254.82 L128.35,253.39 L130.73,251.89 L133.12,250.32 L135.50,248.68 L137.88,246.97 L140.27,245.19 L142.65,243.32 L145.03,241.38 L147.41,239.36 L149.80,237.26 L152.18,235.08 L154.56,232.81 L156.95,230.46 L159.33,228.03 L161.71,225.50 L164.09,222.90 L166.48,220.21 L168.86,217.43 L171.24,214.57 L173.63,211.62 L176.01,208.60 L178.39,205.49 L180.77,202.31 L183.16,199.05 L185.54,195.72 L187.92,192.32 L190.31,188.86 L192.69,185.34 L195.07,181.75 L197.46,178.12 L199.84,174.44 L202.22,170.72 L204.60,166.96 L206.99,163.18 L209.37,159.37 L211.75,155.54 L214.14,151.70 L216.52,147.85 L218.90,144.01 L221.28,140.17 L223.67,136.35 L226.05,132.54 L228.43,128.77 L230.82,125.02 L233.20,121.32 L235.58,117.66 L237.97,114.04 L240.35,110.48 L242.73,106.98 L245.11,103.54 L247.50,100.17 L249.88,96.87 L252.26,93.64 L254.65,90.49 L257.03,87.41 L259.41,84.42 L261.79,81.51 L264.18,78.68 L266.56,75.93 L268.94,73.28 L271.33,70.70 L273.71,68.21 L276.09,65.81 L278.47,63.49 L280.86,61.26 L283.24,59.11 L285.62,57.04 L288.01,55.05 L290.39,53.14 L292.77,51.31 L295.16,49.55 L297.54,47.87 L299.92,46.26 L302.30,44.72 L304.69,43.24 L307.07,41.84 L309.45,40.49 L311.84,39.21 L314.22,37.99 L316.60,36.82 L318.98,35.71 L321.37,34.65 L323.75,33.65" stroke="#22a449" class="ln"/>
<path d="M37.80,272.23 L40.18,271.69 L42.57,271.11 L44.95,270.51 L47.33,269.87 L49.71,269.20 L52.10,268.49 L54.48,267.74 L56.86,266.96 L59.25,266.13 L61.63,265.26 L64.01,264.35 L66.39,263.39 L68.78,262.38 L71.16,261.32 L73.54,260.21 L75.93,259.04 L78.31,257.81 L80.69,256.53 L83.08,255.19 L85.46,253.78 L87.84,252.30 L90.22,250.76 L92.61,249.15 L94.99,247.47 L97.37,245.71 L99.76,243.88 L102.14,241.98 L104.52,239.99 L106.90,237.93 L109.29,235.78 L111.67,233.55 L114.05,231.24 L116.44,228.84 L118.82,226.36 L121.20,223.80 L123.59,221.15 L125.97,218.41 L128.35,215.60 L130.73,212.70 L133.12,209.72 L135.50,206.66 L137.88,203.52 L140.27,200.30 L142.65,197.02 L145.03,193.66 L147.41,190.24 L149.80,186.76 L152.18,183.22 L154.56,179.62 L156.95,175.98 L159.33,172.30 L161.71,168.57 L164.09,164.82 L166.48,161.03 L168.86,157.23 L171.24,153.42 L173.63,149.59 L176.01,145.76 L178.39,141.94 L180.77,138.13 L183.16,134.34 L185.54,130.57 L187.92,126.83 L190.31,123.12 L192.69,119.46 L195.07,115.84 L197.46,112.27 L199.84,108.75 L202.22,105.30 L204.60,101.91 L206.99,98.59 L209.37,95.34 L211.75,92.16 L214.14,89.06 L216.52,86.04 L218.90,83.09 L221.28,80.23 L223.67,77.46 L226.05,74.76 L228.43,72.16 L230.82,69.63 L233.20,67.19 L235.58,64.84 L237.97,62.56 L240.35,60.38 L242.73,58.27 L245.11,56.24 L247.50,54.29 L249.88,52.42 L252.26,50.63 L254.65,48.91 L257.03,47.26 L259.41,45.69 L261.79,44.18 L264.18,42.74 L266.56,41.36 L268.94,40.04 L271.33,38.79 L273.71,37.59 L276.09,36.45 L278.47,35.36 L280.86,34.33 L283.24,33.34 L285.62,32.40 L288.01,31.51 L290.39,30.66 L292.77,29.86 L295.16,29.09 L297.54,28.36 L299.92,27.67 L302.30,27.02 L304.69,26.40 L307.07,25.81 L309.45,25.25 L311.84,24.72 L314.22,24.21 L316.60,23.74 L318.98,23.28 L321.37,22.86 L323.75,22.45" stroke="#22a991" class="ln"/>
<path d="M37.80,271.37 L40.18,270.78 L42.57,270.16 L44.95,269.50 L47.33,268.82 L49.71,268.09 L52.10,267.33 L54.48,266.53 L56.86,265.68 L59.25,264.79 L61.63,263.86 L64.01,262.88 L66.39,261.85 L68.78,260.77 L71.16,259.64 L73.54,258.45 L75.93,257.20 L78.31,255.89 L80.69,254.52 L83.08,253.09 L85.46,251.60 L87.84,250.03 L90.22,248.40 L92.61,246.69 L94.99,244.91 L97.37,243.06 L99.76,241.12 L102.14,239.11 L104.52,237.02 L106.90,234.85 L109.29,232.60 L111.67,230.27 L114.05,227.85 L116.44,225.35 L118.82,222.76 L121.20,220.10 L123.59,217.34 L125.97,214.51 L128.35,211.59 L130.73,208.60 L133.12,205.52 L135.50,202.38 L137.88,199.15 L140.27,195.86 L142.65,192.50 L145.03,189.07 L147.41,185.59 L149.80,182.05 L152.18,178.45 L154.56,174.82 L156.95,171.14 L159.33,167.42 L161.71,163.68 L164.09,159.91 L166.48,156.12 L168.86,152.32 L171.24,148.51 L173.63,144.71 L176.01,140.91 L178.39,137.12 L180.77,133.35 L183.16,129.61 L185.54,125.89 L187.92,122.21 L190.31,118.58 L192.69,114.99 L195.07,111.45 L197.46,107.97 L199.84,104.54 L202.22,101.19 L204.60,97.90 L206.99,94.68 L209.37,91.53 L211.75,88.46 L214.14,85.47 L216.52,82.56 L218.90,79.73 L221.28,76.98 L223.67,74.31 L226.05,71.73 L228.43,69.23 L230.82,66.82 L233.20,64.49 L235.58,62.24 L237.97,60.08 L240.35,57.99 L242.73,55.98 L245.11,54.06 L247.50,52.21 L249.88,50.43 L252.26,48.73 L254.65,47.10 L257.03,45.53 L259.41,44.04 L261.79,42.61 L264.18,41.24 L266.56,39.94 L268.94,38.70 L271.33,37.51 L273.71,36.38 L276.09,35.30 L278.47,34.27 L280.86,33.29 L283.24,32.36 L285.62,31.48 L288.01,30.64 L290.39,29.83 L292.77,29.07 L295.16,28.35 L297.54,27.66 L299.92,27.01 L302.30,26.39 L304.69,25.81 L307.07,25.25 L309.45,24.72 L311.84,24.22 L314.22,23.75 L316.60,23.30 L318.98,22.87 L321.37,22.47 L323.75,22.08" stroke="#22a3c0" class="ln"/>
<path d="M37.80,271.16 L40.18,270.57 L42.57,269.94 L44.95,269.28 L47.33,268.58 L49.71,267.85 L52.10,267.08 L54.48,266.27 L56.86,265.41 L59.25,264.52 L61.63,263.57 L64.01,262.58 L66.39,261.54 L68.78,260.45 L71.16,259.31 L73.54,258.11 L75.93,256.85 L78.31,255.54 L80.69,254.16 L83.08,252.72 L85.46,251.21 L87.84,249.64 L90.22,248.00 L92.61,246.28 L94.99,244.49 L97.37,242.63 L99.76,240.69 L102.14,238.68 L104.52,236.58 L106.90,234.41 L109.29,232.15 L111.67,229.81 L114.05,227.39 L116.44,224.89 L118.82,222.30 L121.20,219.63 L123.59,216.88 L125.97,214.05 L128.35,211.13 L130.73,208.14 L133.12,205.07 L135.50,201.93 L137.88,198.71 L140.27,195.42 L142.65,192.07 L145.03,188.66 L147.41,185.18 L149.80,181.65 L152.18,178.07 L154.56,174.45 L156.95,170.79 L159.33,167.09 L161.71,163.36 L164.09,159.61 L166.48,155.84 L168.86,152.05 L171.24,148.27 L173.63,144.48 L176.01,140.70 L178.39,136.93 L180.77,133.18 L183.16,129.46 L185.54,125.77 L187.92,122.11 L190.31,118.49 L192.69,114.92 L195.07,111.40 L197.46,107.94 L199.84,104.53 L202.22,101.19 L204.60,97.92 L206.99,94.72 L209.37,91.58 L211.75,88.53 L214.14,85.55 L216.52,82.65 L218.90,79.83 L221.28,77.09 L223.67,74.44 L226.05,71.87 L228.43,69.38 L230.82,66.97 L233.20,64.65 L235.58,62.40 L237.97,60.24 L240.35,58.16 L242.73,56.16 L245.11,54.23 L247.50,52.39 L249.88,50.61 L252.26,48.91 L254.65,47.28 L257.03,45.72 L259.41,44.22 L261.79,42.79 L264.18,41.43 L266.56,40.12 L268.94,38.87 L271.33,37.68 L273.71,36.55 L276.09,35.47 L278.47,34.44 L280.86,33.46 L283.24,32.52 L285.62,31.63 L288.01,30.79 L290.39,29.98 L292.77,29.22 L295.16,28.49 L297.54,27.80 L299.92,27.15 L302.30,26.53 L304.69,25.93 L307.07,25.37 L309.45,24.84 L311.84,24.34 L314.22,23.86 L316.60,23.41 L318.98,22.98 L321.37,22.57 L323.75,22.18" stroke="#668fd4" class="ln"/>
<path d="M37.80,277.86 L40.18,277.64 L42.57,277.40 L44.95,277.15 L47.33,276.88 L49.71,276.60 L52.10,276.30 L54.48,275.99 L56.86,275.66 L59.25,275.31 L61.63,274.94 L64.01,274.55 L66.39,274.14 L68.78,273.71 L71.16,273.25 L73.54,272.77 L75.93,272.26 L78.31,271.72 L80.69,271.16 L83.08,270.56 L85.46,269.94 L87.84,269.28 L90.22,268.58 L92.61,267.85 L94.99,267.08 L97.37,266.27 L99.76,265.42 L102.14,264.53 L104.52,263.59 L106.90,262.61 L109.29,261.57 L111.67,260.49 L114.05,259.35 L116.44,258.15 L118.82,256.90 L121.20,255.59 L123.59,254.22 L125.97,252.79 L128.35,251.29 L130.73,249.73 L133.12,248.09 L135.50,246.39 L137.88,244.61 L140.27,242.76 L142.65,240.83 L145.03,238.83 L147.41,236.74 L149.80,234.58 L152.18,232.34 L154.56,230.01 L156.95,227.61 L159.33,225.12 L161.71,222.55 L164.09,219.89 L166.48,217.16 L168.86,214.34 L171.24,211.45 L173.63,208.47 L176.01,205.42 L178.39,202.29 L180.77,199.10 L183.16,195.83 L185.54,192.49 L187.92,189.10 L190.31,185.64 L192.69,182.13 L195.07,178.57 L197.46,174.96 L199.84,171.31 L202.22,167.63 L204.60,163.92 L206.99,160.18 L209.37,156.42 L211.75,152.65 L214.14,148.88 L216.52,145.10 L218.90,141.33 L221.28,137.58 L223.67,133.84 L226.05,130.12 L228.43,126.43 L230.82,122.78 L233.20,119.16 L235.58,115.60 L237.97,112.08 L240.35,108.61 L242.73,105.21 L245.11,101.86 L247.50,98.58 L249.88,95.38 L252.26,92.24 L254.65,89.18 L257.03,86.19 L259.41,83.28 L261.79,80.45 L264.18,77.71 L266.56,75.04 L268.94,72.46 L271.33,69.96 L273.71,67.54 L276.09,65.20 L278.47,62.95 L280.86,60.77 L283.24,58.68 L285.62,56.66 L288.01,54.72 L290.39,52.86 L292.77,51.07 L295.16,49.36 L297.54,47.71 L299.92,46.14 L302.30,44.63 L304.69,43.18 L307.07,41.80 L309.45,40.49 L311.84,39.23 L314.22,38.02 L316.60,36.88 L318.98,35.78 L321.37,34.74 L323.75,33.75" stroke="#bb71d1" class="ln"/>
<path d="M37.80,256.85 L40.18,255.52 L42.57,254.13 L44.95,252.68 L47.33,251.15 L49.71,249.56 L52.10,247.89 L54.48,246.16 L56.86,244.34 L59.25,242.46 L61.63,240.49 L64.01,238.45 L66.39,236.32 L68.78,234.11 L71.16,231.82 L73.54,229.44 L75.93,226.99 L78.31,224.44 L80.69,221.81 L83.08,219.10 L85.46,216.30 L87.84,213.42 L90.22,210.46 L92.61,207.42 L94.99,204.30 L97.37,201.11 L99.76,197.84 L102.14,194.50 L104.52,191.10 L106.90,187.63 L109.29,184.10 L111.67,180.52 L114.05,176.89 L116.44,173.21 L118.82,169.50 L121.20,165.75 L123.59,161.97 L125.97,158.18 L128.35,154.36 L130.73,150.54 L133.12,146.71 L135.50,142.89 L137.88,139.08 L140.27,135.28 L142.65,131.50 L145.03,127.75 L147.41,124.04 L149.80,120.36 L152.18,116.73 L154.56,113.15 L156.95,109.62 L159.33,106.15 L161.71,102.74 L164.09,99.41 L166.48,96.14 L168.86,92.94 L171.24,89.82 L173.63,86.78 L176.01,83.82 L178.39,80.94 L180.77,78.14 L183.16,75.42 L185.54,72.79 L187.92,70.25 L190.31,67.79 L192.69,65.41 L195.07,63.12 L197.46,60.91 L199.84,58.78 L202.22,56.74 L204.60,54.77 L206.99,52.88 L209.37,51.07 L211.75,49.33 L214.14,47.66 L216.52,46.07 L218.90,44.55 L221.28,43.09 L223.67,41.69 L226.05,40.36 L228.43,39.09 L230.82,37.88 L233.20,36.73 L235.58,35.63 L237.97,34.58 L240.35,33.58 L242.73,32.63 L245.11,31.73 L247.50,30.87 L249.88,30.05 L252.26,29.28 L254.65,28.54 L257.03,27.84 L259.41,27.18 L261.79,26.55 L264.18,25.95 L266.56,25.38 L268.94,24.84 L271.33,24.33 L273.71,23.85 L276.09,23.39 L278.47,22.96 L280.86,22.55 L283.24,22.16 L285.62,21.79 L288.01,21.44 L290.39,21.11 L292.77,20.80 L295.16,20.50 L297.54,20.22 L299.92,19.96 L302.30,19.71 L304.69,19.47 L307.07,19.25 L309.45,19.04 L311.84,18.84 L314.22,18.65 L316.60,18.47 L318.98,18.30 L321.37,18.14 L323.75,17.99" stroke="#d466aa" class="ln"/>
<rect x="23.5" y="3.9" width="314.60" height="287.50" fill="none" class="bd"/>
<line x1="23.5" x2="23.5" y1="3.9" y2="291.84999999999997" class="ax"/>
<line x1="23.05" x2="338.1" y1="291.4" y2="291.4" class="ax"/>
<line x1="21.70" x2="23.5" y1="281.80" y2="281.80" class="tk"/>
<text x="20.60" y="284.10" class="tl" text-anchor="end">0.00</text>
<line x1="21.70" x2="23.5" y1="215.20" y2="215.20" class="tk"/>
<text x="20.60" y="217.50" class="tl" text-anchor="end">0.25</text>
<line x1="21.70" x2="23.5" y1="148.60" y2="148.60" class="tk"/>
<text x="20.60" y="150.90" class="tl" text-anchor="end">0.50</text>
<line x1="21.70" x2="23.5" y1="82.00" y2="82.00" class="tk"/>
<text x="20.60" y="84.30" class="tl" text-anchor="end">0.75</text>
<line x1="21.70" x2="23.5" y1="15.40" y2="15.40" class="tk"/>
<text x="20.60" y="17.70" class="tl" text-anchor="end">1.00</text>
<line x1="37.80" x2="37.80" y1="291.4" y2="293.20" class="tk"/>
<text x="37.80" y="298.90" class="tl" text-anchor="middle">0</text>
<line x1="119.50" x2="119.50" y1="291.4" y2="293.20" class="tk"/>
<text x="119.50" y="298.90" class="tl" text-anchor="middle">2</text>
<line x1="201.20" x2="201.20" y1="291.4" y2="293.20" class="tk"/>
<text x="201.20" y="298.90" class="tl" text-anchor="middle">4</text>
<line x1="282.90" x2="282.90" y1="291.4" y2="293.20" class="tk"/>
<text x="282.90" y="298.90" class="tl" text-anchor="middle">6</text>
<line x1="366.3" x2="680.9" y1="246.29" y2="246.29" class="gm"/>
<line x1="366.3" x2="680.9" y1="180.06" y2="180.06" class="gm"/>
<line x1="366.3" x2="680.9" y1="113.84" y2="113.84" class="gm"/>
<line x1="366.3" x2="680.9" y1="47.61" y2="47.61" class="gm"/>
<line x1="416.15" x2="416.15" y1="3.9" y2="291.4" class="gm"/>
<line x1="487.65" x2="487.65" y1="3.9" y2="291.4" class="gm"/>
<line x1="559.15" x2="559.15" y1="3.9" y2="291.4" class="gm"/>
<line x1="630.65" x2="630.65" y1="3.9" y2="291.4" class="gm"/>
<line x1="366.3" x2="680.9" y1="279.40" y2="279.40" class="gM"/>
<line x1="366.3" x2="680.9" y1="213.17" y2="213.17" class="gM"/>
<line x1="366.3" x2="680.9" y1="146.95" y2="146.95" class="gM"/>
<line x1="366.3" x2="680.9" y1="80.72" y2="80.72" class="gM"/>
<line x1="366.3" x2="680.9" y1="14.50" y2="14.50" class="gM"/>
<line x1="380.40" x2="380.40" y1="3.9" y2="291.4" class="gM"/>
<line x1="451.90" x2="451.90" y1="3.9" y2="291.4" class="gM"/>
<line x1="523.40" x2="523.40" y1="3.9" y2="291.4" class="gM"/>
<line x1="594.90" x2="594.90" y1="3.9" y2="291.4" class="gM"/>
<line x1="666.40" x2="666.40" y1="3.9" y2="291.4" class="gM"/>
<path d="M380.40,265.84 L382.78,264.89 L385.17,263.86 L387.55,262.78 L389.93,261.62 L392.32,260.38 L394.70,259.07 L397.08,257.67 L399.47,256.19 L401.85,254.62 L404.23,252.95 L406.62,251.18 L409.00,249.31 L411.38,247.33 L413.77,245.24 L416.15,243.04 L418.53,240.71 L420.92,238.27 L423.30,235.70 L425.68,233.01 L428.07,230.18 L430.45,227.23 L432.83,224.14 L435.22,220.92 L437.60,217.56 L439.98,214.08 L442.37,210.95 L444.75,207.86 L447.13,204.67 L449.52,201.41 L451.90,198.06 L454.28,194.63 L456.67,191.12 L459.05,187.55 L461.43,183.91 L463.82,180.21 L466.20,176.45 L468.58,172.64 L470.97,168.78 L473.35,164.89 L475.73,160.97 L478.12,157.02 L480.50,153.05 L482.88,149.07 L485.27,145.04 L487.65,141.01 L490.03,136.98 L492.42,132.97 L494.80,128.99 L497.18,125.04 L499.57,121.13 L501.95,117.27 L504.33,113.46 L506.72,109.71 L509.10,106.02 L511.48,102.40 L513.87,98.85 L516.25,95.39 L518.63,92.00 L521.02,88.70 L523.40,85.48 L525.78,82.39 L528.17,79.38 L530.55,76.47 L532.93,73.65 L535.32,70.92 L537.70,68.28 L540.08,65.74 L542.47,63.29 L544.85,60.93 L547.23,58.66 L549.62,56.48 L552.00,54.39 L554.38,52.29 L556.77,50.29 L559.15,48.37 L561.53,46.54 L563.92,44.80 L566.30,43.14 L568.68,41.57 L571.07,40.06 L573.45,38.64 L575.83,37.28 L578.22,36.00 L580.60,34.78 L582.98,33.63 L585.37,32.53 L587.75,31.50 L590.13,30.52 L592.52,29.59 L594.90,28.71 L597.28,27.89 L599.67,27.10 L602.05,26.36 L604.43,25.67 L606.82,25.01 L609.20,24.39 L611.58,23.81 L613.97,23.26 L616.35,22.74 L618.73,22.25 L621.12,21.79 L623.50,21.36 L625.88,20.95 L628.27,20.57 L630.65,20.20 L633.03,19.86 L635.42,19.54 L637.80,19.24 L640.18,18.96 L642.57,18.69 L644.95,18.44 L647.33,18.20 L649.72,17.98 L652.10,17.77 L654.48,17.57 L656.87,17.39 L659.25,17.21 L661.63,17.05 L664.02,16.89 L666.40,16.75 L666.40,17.59 L664.02,17.80 L661.63,18.03 L659.25,18.28 L656.87,18.54 L654.48,18.82 L652.10,19.12 L649.72,19.44 L647.33,19.78 L644.95,20.14 L642.57,20.53 L640.18,20.95 L637.80,21.39 L635.42,21.86 L633.03,22.36 L630.65,22.90 L628.27,23.47 L625.88,24.08 L623.50,24.73 L621.12,25.42 L618.73,26.16 L616.35,26.94 L613.97,27.77 L611.58,28.66 L609.20,29.60 L606.82,30.57 L604.43,31.61 L602.05,32.70 L599.67,33.86 L597.28,35.09 L594.90,36.39 L592.52,37.76 L590.13,39.21 L587.75,40.74 L585.37,42.35 L582.98,44.05 L580.60,45.84 L578.22,47.72 L575.83,49.70 L573.45,51.78 L571.07,53.96 L568.68,56.24 L566.30,58.63 L563.92,61.13 L561.53,63.74 L559.15,66.46 L556.77,69.29 L554.38,72.24 L552.00,75.29 L549.62,78.46 L547.23,81.74 L544.85,85.13 L542.47,88.62 L540.08,92.22 L537.70,95.92 L535.32,99.61 L532.93,103.38 L530.55,107.23 L528.17,111.16 L525.78,115.16 L523.40,119.22 L521.02,123.34 L518.63,127.50 L516.25,131.70 L513.87,135.94 L511.48,140.20 L509.10,144.47 L506.72,148.74 L504.33,153.02 L501.95,157.28 L499.57,161.52 L497.18,165.72 L494.80,169.89 L492.42,174.02 L490.03,178.09 L487.65,182.10 L485.27,186.04 L482.88,189.91 L480.50,193.69 L478.12,197.39 L475.73,201.00 L473.35,204.52 L470.97,207.94 L468.58,211.26 L466.20,214.48 L463.82,217.44 L461.43,220.31 L459.05,223.09 L456.67,225.76 L454.28,228.35 L451.90,230.83 L449.52,233.22 L447.13,235.52 L444.75,237.72 L442.37,239.84 L439.98,241.86 L437.60,243.80 L435.22,245.65 L432.83,247.42 L430.45,249.11 L428.07,250.72 L425.68,252.25 L423.30,253.72 L420.92,255.11 L418.53,256.43 L416.15,257.69 L413.77,258.88 L411.38,260.02 L409.00,261.09 L406.62,262.11 L404.23,263.08 L401.85,264.00 L399.47,264.86 L397.08,265.68 L394.70,266.46 L392.32,267.20 L389.93,267.89 L387.55,268.55 L385.17,269.17 L382.78,269.76 L380.40,270.32 Z" class="rb"/>
<path d="M380.40,269.10 L382.78,268.41 L385.17,267.67 L387.55,266.88 L389.93,266.04 L392.32,265.15 L394.70,264.20 L397.08,263.20 L399.47,262.13 L401.85,261.00 L404.23,259.79 L406.62,258.52 L409.00,257.17 L411.38,255.74 L413.77,254.23 L416.15,252.64 L418.53,250.95 L420.92,249.18 L423.30,247.30 L425.68,245.33 L428.07,243.26 L430.45,241.08 L432.83,238.79 L435.22,236.39 L437.60,233.88 L439.98,231.25 L442.37,228.51 L444.75,225.65 L447.13,222.67 L449.52,219.58 L451.90,216.36 L454.28,213.03 L456.67,209.58 L459.05,206.02 L461.43,202.35 L463.82,198.58 L466.20,194.70 L468.58,190.94 L470.97,187.09 L473.35,183.17 L475.73,179.18 L478.12,175.13 L480.50,171.02 L482.88,166.86 L485.27,162.66 L487.65,158.43 L490.03,154.17 L492.42,149.90 L494.80,145.63 L497.18,141.35 L499.57,137.09 L501.95,132.85 L504.33,128.64 L506.72,124.46 L509.10,120.33 L511.48,116.25 L513.87,112.24 L516.25,108.29 L518.63,104.42 L521.02,100.62 L523.40,96.91 L525.78,93.29 L528.17,89.76 L530.55,86.33 L532.93,83.00 L535.32,79.77 L537.70,76.65 L540.08,73.73 L542.47,70.90 L544.85,68.18 L547.23,65.56 L549.62,63.03 L552.00,60.61 L554.38,58.28 L556.77,56.04 L559.15,53.90 L561.53,51.85 L563.92,49.89 L566.30,48.02 L568.68,46.23 L571.07,44.53 L573.45,42.91 L575.83,41.36 L578.22,39.89 L580.60,38.49 L582.98,37.17 L585.37,35.90 L587.75,34.71 L590.13,33.57 L592.52,32.50 L594.90,31.48 L597.28,30.51 L599.67,29.60 L602.05,28.73 L604.43,27.91 L606.82,27.14 L609.20,26.41 L611.58,25.74 L613.97,25.11 L616.35,24.51 L618.73,23.94 L621.12,23.40 L623.50,22.90 L625.88,22.42 L628.27,21.96 L630.65,21.54 L633.03,21.13 L635.42,20.75 L637.80,20.39 L640.18,20.05 L642.57,19.73 L644.95,19.43 L647.33,19.15 L649.72,18.88 L652.10,18.63 L654.48,18.39 L656.87,18.16 L659.25,17.95 L661.63,17.75 L664.02,17.56 L666.40,17.38 L666.40,18.49 L664.02,18.77 L661.63,19.07 L659.25,19.39 L656.87,19.73 L654.48,20.10 L652.10,20.49 L649.72,20.90 L647.33,21.35 L644.95,21.82 L642.57,22.33 L640.18,22.87 L637.80,23.44 L635.42,24.06 L633.03,24.71 L630.65,25.41 L628.27,26.15 L625.88,26.95 L623.50,27.79 L621.12,28.68 L618.73,29.64 L616.35,30.65 L613.97,31.73 L611.58,32.87 L609.20,34.08 L606.82,35.33 L604.43,36.65 L602.05,38.04 L599.67,39.52 L597.28,41.07 L594.90,42.71 L592.52,44.44 L590.13,46.27 L587.75,48.18 L585.37,50.20 L582.98,52.31 L580.60,54.53 L578.22,56.86 L575.83,59.29 L573.45,61.83 L571.07,64.49 L568.68,67.26 L566.30,70.14 L563.92,73.13 L561.53,76.24 L559.15,79.46 L556.77,82.80 L554.38,86.24 L552.00,89.79 L549.62,93.45 L547.23,97.20 L544.85,101.05 L542.47,104.99 L540.08,109.01 L537.70,113.11 L535.32,117.14 L532.93,121.23 L530.55,125.37 L528.17,129.56 L525.78,133.78 L523.40,138.02 L521.02,142.29 L518.63,146.56 L516.25,150.84 L513.87,155.11 L511.48,159.36 L509.10,163.58 L506.72,167.77 L504.33,171.92 L501.95,176.02 L499.57,180.06 L497.18,184.04 L494.80,187.94 L492.42,191.77 L490.03,195.52 L487.65,199.17 L485.27,202.74 L482.88,206.21 L480.50,209.58 L478.12,212.85 L475.73,216.02 L473.35,219.08 L470.97,222.03 L468.58,224.88 L466.20,227.63 L463.82,230.11 L461.43,232.51 L459.05,234.81 L456.67,237.02 L454.28,239.14 L451.90,241.17 L449.52,243.12 L447.13,244.98 L444.75,246.76 L442.37,248.46 L439.98,250.08 L437.60,251.63 L435.22,253.11 L432.83,254.51 L430.45,255.85 L428.07,257.12 L425.68,258.33 L423.30,259.48 L420.92,260.57 L418.53,261.61 L416.15,262.59 L413.77,263.52 L411.38,264.41 L409.00,265.24 L406.62,266.04 L404.23,266.79 L401.85,267.50 L399.47,268.17 L397.08,268.81 L394.70,269.41 L392.32,269.98 L389.93,270.51 L387.55,271.02 L385.17,271.50 L382.78,271.95 L380.40,272.38 Z" class="rb"/>
<path d="M380.40,271.84 L382.78,271.32 L385.17,270.76 L387.55,270.16 L389.93,269.52 L392.32,268.83 L394.70,268.11 L397.08,267.33 L399.47,266.51 L401.85,265.63 L404.23,264.70 L406.62,263.70 L409.00,262.65 L411.38,261.52 L413.77,260.33 L416.15,259.07 L418.53,257.72 L420.92,256.30 L423.30,254.80 L425.68,253.20 L428.07,251.52 L430.45,249.74 L432.83,247.86 L435.22,245.88 L437.60,243.80 L439.98,241.61 L442.37,239.30 L444.75,236.88 L447.13,234.35 L449.52,231.69 L451.90,228.92 L454.28,226.02 L456.67,223.00 L459.05,219.86 L461.43,216.60 L463.82,213.21 L466.20,209.71 L468.58,206.28 L470.97,202.74 L473.35,199.10 L475.73,195.37 L478.12,191.55 L480.50,187.64 L482.88,183.66 L485.27,179.60 L487.65,175.47 L490.03,171.28 L492.42,167.05 L494.80,162.77 L497.18,158.46 L499.57,154.12 L501.95,149.76 L504.33,145.40 L506.72,141.05 L509.10,136.71 L511.48,132.38 L513.87,128.09 L516.25,123.84 L518.63,119.64 L521.02,115.50 L523.40,111.42 L525.78,107.41 L528.17,103.48 L530.55,99.63 L532.93,95.87 L535.32,92.21 L537.70,88.64 L540.08,85.29 L542.47,82.04 L544.85,78.88 L547.23,75.83 L549.62,72.88 L552.00,70.03 L554.38,67.29 L556.77,64.64 L559.15,62.11 L561.53,59.67 L563.92,57.33 L566.30,55.09 L568.68,52.95 L571.07,50.91 L573.45,48.95 L575.83,47.09 L578.22,45.31 L580.60,43.62 L582.98,42.01 L585.37,40.48 L587.75,39.02 L590.13,37.64 L592.52,36.33 L594.90,35.09 L597.28,33.91 L599.67,32.79 L602.05,31.74 L604.43,30.74 L606.82,29.80 L609.20,28.90 L611.58,28.08 L613.97,27.31 L616.35,26.58 L618.73,25.88 L621.12,25.23 L623.50,24.61 L625.88,24.02 L628.27,23.47 L630.65,22.95 L633.03,22.46 L635.42,22.00 L637.80,21.56 L640.18,21.15 L642.57,20.76 L644.95,20.39 L647.33,20.04 L649.72,19.72 L652.10,19.41 L654.48,19.12 L656.87,18.85 L659.25,18.59 L661.63,18.35 L664.02,18.12 L666.40,17.91 L666.40,19.36 L664.02,19.71 L661.63,20.08 L659.25,20.48 L656.87,20.91 L654.48,21.37 L652.10,21.86 L649.72,22.39 L647.33,22.95 L644.95,23.54 L642.57,24.18 L640.18,24.87 L637.80,25.60 L635.42,26.37 L633.03,27.20 L630.65,28.09 L628.27,29.03 L625.88,30.03 L623.50,31.10 L621.12,32.24 L618.73,33.45 L616.35,34.73 L613.97,36.10 L611.58,37.55 L609.20,39.08 L606.82,40.65 L604.43,42.31 L602.05,44.06 L599.67,45.91 L597.28,47.86 L594.90,49.91 L592.52,52.06 L590.13,54.32 L587.75,56.70 L585.37,59.18 L582.98,61.79 L580.60,64.51 L578.22,67.34 L575.83,70.30 L573.45,73.38 L571.07,76.58 L568.68,79.89 L566.30,83.32 L563.92,86.87 L561.53,90.53 L559.15,94.29 L556.77,98.16 L554.38,102.13 L552.00,106.20 L549.62,110.34 L547.23,114.57 L544.85,118.87 L542.47,123.23 L540.08,127.65 L537.70,132.11 L535.32,136.43 L532.93,140.77 L530.55,145.13 L528.17,149.49 L525.78,153.84 L523.40,158.18 L521.02,162.50 L518.63,166.78 L516.25,171.02 L513.87,175.21 L511.48,179.34 L509.10,183.40 L506.72,187.39 L504.33,191.31 L501.95,195.13 L499.57,198.87 L497.18,202.51 L494.80,206.05 L492.42,209.49 L490.03,212.83 L487.65,216.06 L485.27,219.17 L482.88,222.18 L480.50,225.08 L478.12,227.87 L475.73,230.55 L473.35,233.12 L470.97,235.58 L468.58,237.93 L466.20,240.18 L463.82,242.19 L461.43,244.11 L459.05,245.95 L456.67,247.70 L454.28,249.37 L451.90,250.97 L449.52,252.49 L447.13,253.94 L444.75,255.32 L442.37,256.63 L439.98,257.87 L437.60,259.06 L435.22,260.18 L432.83,261.25 L430.45,262.26 L428.07,263.21 L425.68,264.12 L423.30,264.98 L420.92,265.80 L418.53,266.57 L416.15,267.30 L413.77,267.99 L411.38,268.64 L409.00,269.26 L406.62,269.84 L404.23,270.39 L401.85,270.91 L399.47,271.40 L397.08,271.86 L394.70,272.30 L392.32,272.71 L389.93,273.10 L387.55,273.47 L385.17,273.81 L382.78,274.14 L380.40,274.44 Z" class="rb"/>
<path d="M380.40,273.31 L382.78,272.89 L385.17,272.43 L387.55,271.95 L389.93,271.43 L392.32,270.88 L394.70,270.29 L397.08,269.66 L399.47,268.99 L401.85,268.28 L404.23,267.52 L406.62,266.71 L409.00,265.84 L411.38,264.93 L413.77,263.95 L416.15,262.91 L418.53,261.81 L420.92,260.64 L423.30,259.40 L425.68,258.08 L428.07,256.68 L430.45,255.21 L432.83,253.64 L435.22,251.99 L437.60,250.24 L439.98,248.40 L442.37,246.45 L444.75,244.41 L447.13,242.25 L449.52,239.99 L451.90,237.61 L454.28,235.12 L456.67,232.51 L459.05,229.78 L461.43,226.93 L463.82,223.96 L466.20,220.86 L468.58,217.81 L470.97,214.64 L473.35,211.37 L475.73,207.98 L478.12,204.50 L480.50,200.91 L482.88,197.23 L485.27,193.45 L487.65,189.58 L490.03,185.64 L492.42,181.61 L494.80,177.52 L497.18,173.36 L499.57,169.14 L501.95,164.89 L504.33,160.59 L506.72,156.26 L509.10,151.91 L511.48,147.56 L513.87,143.20 L516.25,138.85 L518.63,134.51 L521.02,130.21 L523.40,125.94 L525.78,121.71 L528.17,117.54 L530.55,113.42 L532.93,109.38 L535.32,105.41 L537.70,101.52 L540.08,97.83 L542.47,94.23 L544.85,90.72 L547.23,87.30 L549.62,83.98 L552.00,80.76 L554.38,77.63 L556.77,74.62 L559.15,71.70 L561.53,68.89 L563.92,66.18 L566.30,63.58 L568.68,61.08 L571.07,58.68 L573.45,56.38 L575.83,54.18 L578.22,52.07 L580.60,50.06 L582.98,48.14 L585.37,46.31 L587.75,44.57 L590.13,42.91 L592.52,41.33 L594.90,39.83 L597.28,38.40 L599.67,37.05 L602.05,35.77 L604.43,34.55 L606.82,33.40 L609.20,32.31 L611.58,31.31 L613.97,30.35 L616.35,29.45 L618.73,28.60 L621.12,27.80 L623.50,27.03 L625.88,26.31 L628.27,25.63 L630.65,24.99 L633.03,24.38 L635.42,23.81 L637.80,23.26 L640.18,22.75 L642.57,22.27 L644.95,21.82 L647.33,21.39 L649.72,20.98 L652.10,20.60 L654.48,20.24 L656.87,19.90 L659.25,19.58 L661.63,19.28 L664.02,19.00 L666.40,18.73 L666.40,20.62 L664.02,21.06 L661.63,21.53 L659.25,22.04 L656.87,22.58 L654.48,23.16 L652.10,23.78 L649.72,24.44 L647.33,25.14 L644.95,25.90 L642.57,26.70 L640.18,27.56 L637.80,28.48 L635.42,29.46 L633.03,30.50 L630.65,31.61 L628.27,32.79 L625.88,34.04 L623.50,35.37 L621.12,36.79 L618.73,38.29 L616.35,39.89 L613.97,41.58 L611.58,43.36 L609.20,45.25 L606.82,47.17 L604.43,49.20 L602.05,51.32 L599.67,53.56 L597.28,55.91 L594.90,58.37 L592.52,60.95 L590.13,63.65 L587.75,66.46 L585.37,69.40 L582.98,72.45 L580.60,75.63 L578.22,78.93 L575.83,82.34 L573.45,85.87 L571.07,89.52 L568.68,93.27 L566.30,97.14 L563.92,101.10 L561.53,105.16 L559.15,109.31 L556.77,113.54 L554.38,117.84 L552.00,122.21 L549.62,126.64 L547.23,131.11 L544.85,135.62 L542.47,140.16 L540.08,144.71 L537.70,149.27 L535.32,153.62 L532.93,157.96 L530.55,162.28 L528.17,166.56 L525.78,170.80 L523.40,175.00 L521.02,179.13 L518.63,183.20 L516.25,187.19 L513.87,191.11 L511.48,194.94 L509.10,198.68 L506.72,202.33 L504.33,205.88 L501.95,209.32 L499.57,212.66 L497.18,215.90 L494.80,219.02 L492.42,222.03 L490.03,224.94 L487.65,227.73 L485.27,230.41 L482.88,232.99 L480.50,235.45 L478.12,237.81 L475.73,240.07 L473.35,242.22 L470.97,244.28 L468.58,246.24 L466.20,248.10 L463.82,249.74 L461.43,251.31 L459.05,252.80 L456.67,254.22 L454.28,255.57 L451.90,256.86 L449.52,258.08 L447.13,259.24 L444.75,260.35 L442.37,261.40 L439.98,262.39 L437.60,263.33 L435.22,264.23 L432.83,265.07 L430.45,265.88 L428.07,266.64 L425.68,267.36 L423.30,268.04 L420.92,268.68 L418.53,269.29 L416.15,269.86 L413.77,270.41 L411.38,270.92 L409.00,271.41 L406.62,271.86 L404.23,272.30 L401.85,272.71 L399.47,273.09 L397.08,273.46 L394.70,273.80 L392.32,274.12 L389.93,274.43 L387.55,274.72 L385.17,274.99 L382.78,275.24 L380.40,275.49 Z" class="rb"/>
<path d="M380.40,274.77 L382.78,274.44 L385.17,274.09 L387.55,273.71 L389.93,273.31 L392.32,272.87 L394.70,272.41 L397.08,271.92 L399.47,271.39 L401.85,270.82 L404.23,270.22 L406.62,269.58 L409.00,268.89 L411.38,268.16 L413.77,267.38 L416.15,266.54 L418.53,265.66 L420.92,264.71 L423.30,263.71 L425.68,262.64 L428.07,261.50 L430.45,260.29 L432.83,259.00 L435.22,257.64 L437.60,256.20 L439.98,254.66 L442.37,253.04 L444.75,251.33 L447.13,249.51 L449.52,247.60 L451.90,245.58 L454.28,243.45 L456.67,241.21 L459.05,238.86 L461.43,236.38 L463.82,233.79 L466.20,231.08 L468.58,228.42 L470.97,225.65 L473.35,222.78 L475.73,219.79 L478.12,216.70 L480.50,213.49 L482.88,210.18 L485.27,206.76 L487.65,203.24 L490.03,199.62 L492.42,195.90 L494.80,192.09 L497.18,188.19 L499.57,184.22 L501.95,180.17 L504.33,176.05 L506.72,171.87 L509.10,167.64 L511.48,163.37 L513.87,159.06 L516.25,154.72 L518.63,150.37 L521.02,146.01 L523.40,141.65 L525.78,137.31 L528.17,132.98 L530.55,128.69 L532.93,124.43 L535.32,120.22 L537.70,116.07 L540.08,112.15 L542.47,108.28 L544.85,104.49 L547.23,100.78 L549.62,97.15 L552.00,93.60 L554.38,90.14 L556.77,86.77 L559.15,83.50 L561.53,80.33 L563.92,77.25 L566.30,74.28 L568.68,71.40 L571.07,68.63 L573.45,65.96 L575.83,63.39 L578.22,60.93 L580.60,58.56 L582.98,56.28 L585.37,54.11 L587.75,52.03 L590.13,50.04 L592.52,48.14 L594.90,46.33 L597.28,44.60 L599.67,42.96 L602.05,41.39 L604.43,39.90 L606.82,38.49 L609.20,37.15 L611.58,35.92 L613.97,34.75 L616.35,33.64 L618.73,32.59 L621.12,31.59 L623.50,30.64 L625.88,29.74 L628.27,28.89 L630.65,28.09 L633.03,27.32 L635.42,26.60 L637.80,25.92 L640.18,25.27 L642.57,24.66 L644.95,24.08 L647.33,23.54 L649.72,23.02 L652.10,22.53 L654.48,22.07 L656.87,21.64 L659.25,21.23 L661.63,20.84 L664.02,20.47 L666.40,20.13 L666.40,22.81 L664.02,23.40 L661.63,24.03 L659.25,24.70 L656.87,25.42 L654.48,26.19 L652.10,27.00 L649.72,27.87 L647.33,28.80 L644.95,29.79 L642.57,30.85 L640.18,31.97 L637.80,33.16 L635.42,34.43 L633.03,35.77 L630.65,37.20 L628.27,38.71 L625.88,40.32 L623.50,42.01 L621.12,43.81 L618.73,45.71 L616.35,47.71 L613.97,49.82 L611.58,52.05 L609.20,54.39 L606.82,56.77 L604.43,59.26 L602.05,61.86 L599.67,64.59 L597.28,67.43 L594.90,70.39 L592.52,73.47 L590.13,76.67 L587.75,79.99 L585.37,83.42 L582.98,86.97 L580.60,90.63 L578.22,94.40 L575.83,98.28 L573.45,102.25 L571.07,106.32 L568.68,110.47 L566.30,114.70 L563.92,119.00 L561.53,123.36 L559.15,127.78 L556.77,132.24 L554.38,136.74 L552.00,141.26 L549.62,145.79 L547.23,150.33 L544.85,154.85 L542.47,159.36 L540.08,163.84 L537.70,168.29 L535.32,172.51 L532.93,176.68 L530.55,180.79 L528.17,184.83 L525.78,188.79 L523.40,192.67 L521.02,196.47 L518.63,200.17 L516.25,203.78 L513.87,207.29 L511.48,210.69 L509.10,213.99 L506.72,217.17 L504.33,220.25 L501.95,223.22 L499.57,226.08 L497.18,228.83 L494.80,231.47 L492.42,234.00 L490.03,236.42 L487.65,238.74 L485.27,240.96 L482.88,243.07 L480.50,245.08 L478.12,247.00 L475.73,248.83 L473.35,250.56 L470.97,252.21 L468.58,253.78 L466.20,255.26 L463.82,256.57 L461.43,257.82 L459.05,259.01 L456.67,260.13 L454.28,261.20 L451.90,262.22 L449.52,263.18 L447.13,264.09 L444.75,264.95 L442.37,265.77 L439.98,266.54 L437.60,267.27 L435.22,267.96 L432.83,268.61 L430.45,269.23 L428.07,269.81 L425.68,270.37 L423.30,270.89 L420.92,271.38 L418.53,271.84 L416.15,272.28 L413.77,272.69 L411.38,273.08 L409.00,273.45 L406.62,273.80 L404.23,274.12 L401.85,274.43 L399.47,274.72 L397.08,275.00 L394.70,275.25 L392.32,275.50 L389.93,275.73 L387.55,275.94 L385.17,276.15 L382.78,276.34 L380.40,276.52 Z" class="rb"/>
<path d="M380.40,275.04 L382.78,274.73 L385.17,274.39 L387.55,274.04 L389.93,273.65 L392.32,273.25 L394.70,272.81 L397.08,272.34 L399.47,271.84 L401.85,271.31 L404.23,270.74 L406.62,270.13 L409.00,269.48 L411.38,268.79 L413.77,268.05 L416.15,267.26 L418.53,266.42 L420.92,265.52 L423.30,264.57 L425.68,263.55 L428.07,262.47 L430.45,261.33 L432.83,260.11 L435.22,258.81 L437.60,257.43 L439.98,255.98 L442.37,254.43 L444.75,252.80 L447.13,251.07 L449.52,249.24 L451.90,247.31 L454.28,245.27 L456.67,243.13 L459.05,240.87 L461.43,238.50 L463.82,236.01 L466.20,233.40 L468.58,230.84 L470.97,228.18 L473.35,225.40 L475.73,222.52 L478.12,219.52 L480.50,216.42 L482.88,213.20 L485.27,209.88 L487.65,206.45 L490.03,202.92 L492.42,199.29 L494.80,195.56 L497.18,191.75 L499.57,187.84 L501.95,183.86 L504.33,179.80 L506.72,175.68 L509.10,171.50 L511.48,167.26 L513.87,162.99 L516.25,158.67 L518.63,154.34 L521.02,149.98 L523.40,145.63 L525.78,141.27 L528.17,136.93 L530.55,132.60 L532.93,128.31 L535.32,124.06 L537.70,119.85 L540.08,115.87 L542.47,111.95 L544.85,108.09 L547.23,104.31 L549.62,100.60 L552.00,96.97 L554.38,93.42 L556.77,89.97 L559.15,86.61 L561.53,83.34 L563.92,80.17 L566.30,77.10 L568.68,74.13 L571.07,71.26 L573.45,68.50 L575.83,65.83 L578.22,63.27 L580.60,60.80 L582.98,58.44 L585.37,56.17 L587.75,54.00 L590.13,51.93 L592.52,49.94 L594.90,48.05 L597.28,46.24 L599.67,44.52 L602.05,42.88 L604.43,41.31 L606.82,39.83 L609.20,38.42 L611.58,37.13 L613.97,35.90 L616.35,34.73 L618.73,33.63 L621.12,32.57 L623.50,31.58 L625.88,30.63 L628.27,29.73 L630.65,28.88 L633.03,28.08 L635.42,27.31 L637.80,26.59 L640.18,25.91 L642.57,25.26 L644.95,24.65 L647.33,24.08 L649.72,23.53 L652.10,23.01 L654.48,22.53 L656.87,22.07 L659.25,21.63 L661.63,21.22 L664.02,20.83 L666.40,20.47 L666.40,23.39 L664.02,24.02 L661.63,24.70 L659.25,25.42 L656.87,26.19 L654.48,27.01 L652.10,27.88 L649.72,28.82 L647.33,29.81 L644.95,30.87 L642.57,31.99 L640.18,33.19 L637.80,34.47 L635.42,35.82 L633.03,37.25 L630.65,38.78 L628.27,40.39 L625.88,42.10 L623.50,43.91 L621.12,45.82 L618.73,47.83 L616.35,49.96 L613.97,52.20 L611.58,54.56 L609.20,57.03 L606.82,59.54 L604.43,62.17 L602.05,64.91 L599.67,67.77 L597.28,70.75 L594.90,73.85 L592.52,77.07 L590.13,80.41 L587.75,83.87 L585.37,87.44 L582.98,91.12 L580.60,94.91 L578.22,98.81 L575.83,102.80 L573.45,106.89 L571.07,111.06 L568.68,115.31 L566.30,119.63 L563.92,124.01 L561.53,128.44 L559.15,132.92 L556.77,137.43 L554.38,141.96 L552.00,146.50 L549.62,151.04 L547.23,155.58 L544.85,160.09 L542.47,164.58 L540.08,169.02 L537.70,173.41 L535.32,177.57 L532.93,181.66 L530.55,185.69 L528.17,189.63 L525.78,193.50 L523.40,197.27 L521.02,200.96 L518.63,204.54 L516.25,208.03 L513.87,211.41 L511.48,214.68 L509.10,217.85 L506.72,220.90 L504.33,223.85 L501.95,226.68 L499.57,229.41 L497.18,232.02 L494.80,234.53 L492.42,236.93 L490.03,239.23 L487.65,241.42 L485.27,243.51 L482.88,245.50 L480.50,247.40 L478.12,249.21 L475.73,250.93 L473.35,252.56 L470.97,254.10 L468.58,255.57 L466.20,256.96 L463.82,258.18 L461.43,259.35 L459.05,260.45 L456.67,261.50 L454.28,262.50 L451.90,263.44 L449.52,264.33 L447.13,265.18 L444.75,265.98 L442.37,266.74 L439.98,267.45 L437.60,268.13 L435.22,268.77 L432.83,269.38 L430.45,269.95 L428.07,270.50 L425.68,271.01 L423.30,271.49 L420.92,271.95 L418.53,272.38 L416.15,272.78 L413.77,273.17 L411.38,273.53 L409.00,273.87 L406.62,274.19 L404.23,274.49 L401.85,274.78 L399.47,275.05 L397.08,275.30 L394.70,275.54 L392.32,275.77 L389.93,275.98 L387.55,276.18 L385.17,276.37 L382.78,276.55 L380.40,276.72 Z" class="rb"/>
<path d="M380.40,274.91 L382.78,274.59 L385.17,274.24 L387.55,273.88 L389.93,273.48 L392.32,273.06 L394.70,272.61 L397.08,272.13 L399.47,271.62 L401.85,271.07 L404.23,270.48 L406.62,269.86 L409.00,269.19 L411.38,268.48 L413.77,267.72 L416.15,266.91 L418.53,266.04 L420.92,265.12 L423.30,264.14 L425.68,263.10 L428.07,261.99 L430.45,260.81 L432.83,259.56 L435.22,258.23 L437.60,256.82 L439.98,255.33 L442.37,253.75 L444.75,252.07 L447.13,250.30 L449.52,248.43 L451.90,246.45 L454.28,244.37 L456.67,242.18 L459.05,239.88 L461.43,237.45 L463.82,234.91 L466.20,232.25 L468.58,229.64 L470.97,226.93 L473.35,224.10 L475.73,221.17 L478.12,218.12 L480.50,214.97 L482.88,211.70 L485.27,208.33 L487.65,204.86 L490.03,201.28 L492.42,197.60 L494.80,193.84 L497.18,189.98 L499.57,186.04 L501.95,182.02 L504.33,177.93 L506.72,173.78 L509.10,169.57 L511.48,165.32 L513.87,161.02 L516.25,156.70 L518.63,152.36 L521.02,148.00 L523.40,143.64 L525.78,139.29 L528.17,134.95 L530.55,130.64 L532.93,126.37 L535.32,122.14 L537.70,117.96 L540.08,114.00 L542.47,110.11 L544.85,106.29 L547.23,102.53 L549.62,98.86 L552.00,95.27 L554.38,91.77 L556.77,88.36 L559.15,85.04 L561.53,81.82 L563.92,78.70 L566.30,75.68 L568.68,72.76 L571.07,69.94 L573.45,67.22 L575.83,64.60 L578.22,62.08 L580.60,59.67 L582.98,57.35 L585.37,55.13 L587.75,53.00 L590.13,50.97 L592.52,49.03 L594.90,47.18 L597.28,45.41 L599.67,43.73 L602.05,42.12 L604.43,40.60 L606.82,39.15 L609.20,37.78 L611.58,36.52 L613.97,35.32 L616.35,34.18 L618.73,33.10 L621.12,32.08 L623.50,31.10 L625.88,30.18 L628.27,29.31 L630.65,28.48 L633.03,27.70 L635.42,26.95 L637.80,26.25 L640.18,25.59 L642.57,24.96 L644.95,24.36 L647.33,23.80 L649.72,23.27 L652.10,22.77 L654.48,22.30 L656.87,21.85 L659.25,21.43 L661.63,21.03 L664.02,20.65 L666.40,20.30 L666.40,23.06 L664.02,23.66 L661.63,24.31 L659.25,25.00 L656.87,25.74 L654.48,26.53 L652.10,27.37 L649.72,28.26 L647.33,29.21 L644.95,30.23 L642.57,31.31 L640.18,32.46 L637.80,33.69 L635.42,34.99 L633.03,36.36 L630.65,37.83 L628.27,39.38 L625.88,41.02 L623.50,42.76 L621.12,44.60 L618.73,46.54 L616.35,48.59 L613.97,50.75 L611.58,53.03 L609.20,55.42 L606.82,57.84 L604.43,60.39 L602.05,63.04 L599.67,65.82 L597.28,68.71 L594.90,71.72 L592.52,74.86 L590.13,78.11 L587.75,81.48 L585.37,84.96 L582.98,88.56 L580.60,92.27 L578.22,96.09 L575.83,100.01 L573.45,104.02 L571.07,108.12 L568.68,112.31 L566.30,116.57 L563.92,120.90 L561.53,125.29 L559.15,129.73 L556.77,134.21 L554.38,138.72 L552.00,143.24 L549.62,147.78 L547.23,152.31 L544.85,156.83 L542.47,161.33 L540.08,165.79 L537.70,170.22 L535.32,174.42 L532.93,178.56 L530.55,182.64 L528.17,186.64 L525.78,190.57 L523.40,194.41 L521.02,198.17 L518.63,201.83 L516.25,205.39 L513.87,208.85 L511.48,212.20 L509.10,215.45 L506.72,218.59 L504.33,221.62 L501.95,224.54 L499.57,227.35 L497.18,230.05 L494.80,232.64 L492.42,235.12 L490.03,237.49 L487.65,239.76 L485.27,241.93 L482.88,244.00 L480.50,245.97 L478.12,247.85 L475.73,249.63 L473.35,251.33 L470.97,252.94 L468.58,254.46 L466.20,255.91 L463.82,257.19 L461.43,258.41 L459.05,259.57 L456.67,260.66 L454.28,261.71 L451.90,262.69 L449.52,263.63 L447.13,264.51 L444.75,265.35 L442.37,266.15 L439.98,266.90 L437.60,267.61 L435.22,268.28 L432.83,268.92 L430.45,269.52 L428.07,270.09 L425.68,270.62 L423.30,271.13 L420.92,271.61 L418.53,272.06 L416.15,272.48 L413.77,272.89 L411.38,273.27 L409.00,273.62 L406.62,273.96 L404.23,274.28 L401.85,274.58 L399.47,274.86 L397.08,275.12 L394.70,275.38 L392.32,275.61 L389.93,275.83 L387.55,276.04 L385.17,276.24 L382.78,276.43 L380.40,276.60 Z" class="rb"/>
<path d="M380.40,275.79 L382.78,275.53 L385.17,275.26 L387.55,274.96 L389.93,274.64 L392.32,274.31 L394.70,273.94 L397.08,273.56 L399.47,273.14 L401.85,272.70 L404.23,272.23 L406.62,271.72 L409.00,271.18 L411.38,270.60 L413.77,269.99 L416.15,269.33 L418.53,268.63 L420.92,267.88 L423.30,267.09 L425.68,266.24 L428.07,265.33 L430.45,264.37 L432.83,263.34 L435.22,262.25 L437.60,261.10 L439.98,259.87 L442.37,258.56 L444.75,257.17 L447.13,255.71 L449.52,254.15 L451.90,252.50 L454.28,250.76 L456.67,248.92 L459.05,246.98 L461.43,244.94 L463.82,242.78 L466.20,240.52 L468.58,238.28 L470.97,235.94 L473.35,233.50 L475.73,230.94 L478.12,228.28 L480.50,225.51 L482.88,222.63 L485.27,219.64 L487.65,216.54 L490.03,213.33 L492.42,210.01 L494.80,206.58 L497.18,203.06 L499.57,199.43 L501.95,195.71 L504.33,191.89 L506.72,187.99 L509.10,184.01 L511.48,179.96 L513.87,175.84 L516.25,171.66 L518.63,167.42 L521.02,163.15 L523.40,158.84 L525.78,154.50 L528.17,150.15 L530.55,145.79 L532.93,141.43 L535.32,137.09 L537.70,132.77 L540.08,128.64 L542.47,124.54 L544.85,120.50 L547.23,116.50 L549.62,112.56 L552.00,108.68 L554.38,104.88 L556.77,101.14 L559.15,97.50 L561.53,93.93 L563.92,90.46 L566.30,87.07 L568.68,83.79 L571.07,80.60 L573.45,77.51 L575.83,74.52 L578.22,71.63 L580.60,68.84 L582.98,66.16 L585.37,63.58 L587.75,61.10 L590.13,58.72 L592.52,56.43 L594.90,54.25 L597.28,52.16 L599.67,50.16 L602.05,48.25 L604.43,46.43 L606.82,44.69 L609.20,43.04 L611.58,41.52 L613.97,40.08 L616.35,38.70 L618.73,37.39 L621.12,36.14 L623.50,34.96 L625.88,33.84 L628.27,32.77 L630.65,31.76 L633.03,30.80 L635.42,29.89 L637.80,29.03 L640.18,28.21 L642.57,27.44 L644.95,26.71 L647.33,26.01 L649.72,25.36 L652.10,24.74 L654.48,24.16 L656.87,23.60 L659.25,23.08 L661.63,22.59 L664.02,22.12 L666.40,21.68 L666.40,24.98 L664.02,25.68 L661.63,26.43 L659.25,27.23 L656.87,28.08 L654.48,28.99 L652.10,29.95 L649.72,30.97 L647.33,32.05 L644.95,33.20 L642.57,34.42 L640.18,35.71 L637.80,37.08 L635.42,38.52 L633.03,40.05 L630.65,41.67 L628.27,43.37 L625.88,45.17 L623.50,47.06 L621.12,49.09 L618.73,51.22 L616.35,53.47 L613.97,55.82 L611.58,58.29 L609.20,60.88 L606.82,63.59 L604.43,66.41 L602.05,69.36 L599.67,72.43 L597.28,75.62 L594.90,78.93 L592.52,82.62 L590.13,86.44 L587.75,90.39 L585.37,94.47 L582.98,98.67 L580.60,102.99 L578.22,107.35 L575.83,111.80 L573.45,116.35 L571.07,120.97 L568.68,125.65 L566.30,130.40 L563.92,135.18 L561.53,140.00 L559.15,144.84 L556.77,149.39 L554.38,153.48 L552.00,157.57 L549.62,161.63 L547.23,165.67 L544.85,169.67 L542.47,173.63 L540.08,177.54 L537.70,181.39 L535.32,185.19 L532.93,188.91 L530.55,192.57 L528.17,196.14 L525.78,199.64 L523.40,203.05 L521.02,206.37 L518.63,209.60 L516.25,212.74 L513.87,215.83 L511.48,218.88 L509.10,221.84 L506.72,224.68 L504.33,227.43 L501.95,230.06 L499.57,232.59 L497.18,235.02 L494.80,237.35 L492.42,239.58 L490.03,241.71 L487.65,243.74 L485.27,245.68 L482.88,247.53 L480.50,249.29 L478.12,250.97 L475.73,252.56 L473.35,254.07 L470.97,255.51 L468.58,256.87 L466.20,258.16 L463.82,259.36 L461.43,260.50 L459.05,261.58 L456.67,262.60 L454.28,263.56 L451.90,264.48 L449.52,265.34 L447.13,266.16 L444.75,266.93 L442.37,267.65 L439.98,268.34 L437.60,268.99 L435.22,269.60 L432.83,270.18 L430.45,270.73 L428.07,271.24 L425.68,271.72 L423.30,272.18 L420.92,272.61 L418.53,273.02 L416.15,273.40 L413.77,273.76 L411.38,274.09 L409.00,274.41 L406.62,274.71 L404.23,274.99 L401.85,275.26 L399.47,275.51 L397.08,275.74 L394.70,275.96 L392.32,276.17 L389.93,276.37 L387.55,276.55 L385.17,276.72 L382.78,276.88 L380.40,277.04 Z" class="rb"/>
<path d="M380.40,278.26 L382.78,278.18 L385.17,278.09 L387.55,278.01 L389.93,277.91 L392.32,277.81 L394.70,277.70 L397.08,277.59 L399.47,277.46 L401.85,277.33 L404.23,277.19 L406.62,277.04 L409.00,276.89 L411.38,276.72 L413.77,276.53 L416.15,276.34 L418.53,276.13 L420.92,275.91 L423.30,275.68 L425.68,275.43 L428.07,275.16 L430.45,274.88 L432.83,274.58 L435.22,274.25 L437.60,273.91 L439.98,273.54 L442.37,273.15 L444.75,272.74 L447.13,272.29 L449.52,271.82 L451.90,271.32 L454.28,270.79 L456.67,270.22 L459.05,269.62 L461.43,268.97 L463.82,268.29 L466.20,267.57 L468.58,266.80 L470.97,265.98 L473.35,265.12 L475.73,264.20 L478.12,263.22 L480.50,262.19 L482.88,261.10 L485.27,259.94 L487.65,258.71 L490.03,257.42 L492.42,256.05 L494.80,254.61 L497.18,253.08 L499.57,251.47 L501.95,249.73 L504.33,247.85 L506.72,245.87 L509.10,243.78 L511.48,241.59 L513.87,239.28 L516.25,236.86 L518.63,234.33 L521.02,231.58 L523.40,228.35 L525.78,224.96 L528.17,221.39 L530.55,217.67 L532.93,213.57 L535.32,208.98 L537.70,204.18 L540.08,199.20 L542.47,194.03 L544.85,188.69 L547.23,183.20 L549.62,177.57 L552.00,171.82 L554.38,166.10 L556.77,160.31 L559.15,154.47 L561.53,148.61 L563.92,142.74 L566.30,136.93 L568.68,131.15 L571.07,125.44 L573.45,119.80 L575.83,114.27 L578.22,108.85 L580.60,103.58 L582.98,98.77 L585.37,94.10 L587.75,89.58 L590.13,85.22 L592.52,81.03 L594.90,77.00 L597.28,73.91 L599.67,70.94 L602.05,68.07 L604.43,65.31 L606.82,62.66 L609.20,60.12 L611.58,57.69 L613.97,55.73 L616.35,53.94 L618.73,52.22 L621.12,50.55 L623.50,48.95 L625.88,47.41 L628.27,45.93 L630.65,44.51 L633.03,43.15 L635.42,41.84 L637.80,40.58 L640.18,39.37 L642.57,38.22 L644.95,37.11 L647.33,36.05 L649.72,35.11 L652.10,34.50 L654.48,33.91 L656.87,33.33 L659.25,32.77 L661.63,32.23 L664.02,31.70 L666.40,31.18 L666.40,53.05 L664.02,55.34 L661.63,57.73 L659.25,60.24 L656.87,62.86 L654.48,65.60 L652.10,68.45 L649.72,71.41 L647.33,74.50 L644.95,77.70 L642.57,81.02 L640.18,84.45 L637.80,87.99 L635.42,91.64 L633.03,95.39 L630.65,99.25 L628.27,103.20 L625.88,107.24 L623.50,111.36 L621.12,115.56 L618.73,119.83 L616.35,124.15 L613.97,128.53 L611.58,132.94 L609.20,137.39 L606.82,141.87 L604.43,146.35 L602.05,150.43 L599.67,154.23 L597.28,158.02 L594.90,161.79 L592.52,165.54 L590.13,169.25 L587.75,172.93 L585.37,176.57 L582.98,180.17 L580.60,183.71 L578.22,187.19 L575.83,190.62 L573.45,193.98 L571.07,197.27 L568.68,200.50 L566.30,203.64 L563.92,206.72 L561.53,209.71 L559.15,212.62 L556.77,215.27 L554.38,217.56 L552.00,219.80 L549.62,221.99 L547.23,224.11 L544.85,226.18 L542.47,228.18 L540.08,230.13 L537.70,232.03 L535.32,233.86 L532.93,235.64 L530.55,237.36 L528.17,239.02 L525.78,240.64 L523.40,242.19 L521.02,243.70 L518.63,245.55 L516.25,247.41 L513.87,249.19 L511.48,250.88 L509.10,252.48 L506.72,254.00 L504.33,255.45 L501.95,256.82 L499.57,258.12 L497.18,259.37 L494.80,260.54 L492.42,261.65 L490.03,262.70 L487.65,263.70 L485.27,264.63 L482.88,265.52 L480.50,266.35 L478.12,267.14 L475.73,267.88 L473.35,268.57 L470.97,269.23 L468.58,269.85 L466.20,270.43 L463.82,270.98 L461.43,271.50 L459.05,271.98 L456.67,272.44 L454.28,272.87 L451.90,273.27 L449.52,273.65 L447.13,274.01 L444.75,274.34 L442.37,274.65 L439.98,274.95 L437.60,275.22 L435.22,275.48 L432.83,275.73 L430.45,275.96 L428.07,276.17 L425.68,276.37 L423.30,276.56 L420.92,276.74 L418.53,276.91 L416.15,277.06 L413.77,277.21 L411.38,277.35 L409.00,277.48 L406.62,277.60 L404.23,277.71 L401.85,277.82 L399.47,277.91 L397.08,278.01 L394.70,278.10 L392.32,278.18 L389.93,278.25 L387.55,278.33 L385.17,278.39 L382.78,278.46 L380.40,278.52 Z" class="rb"/>
<path d="M380.40,278.32 L382.78,278.25 L385.17,278.17 L387.55,278.09 L389.93,278.00 L392.32,277.90 L394.70,277.80 L397.08,277.69 L399.47,277.58 L401.85,277.46 L404.23,277.33 L406.62,277.19 L409.00,277.04 L411.38,276.88 L413.77,276.71 L416.15,276.53 L418.53,276.33 L420.92,276.13 L423.30,275.91 L425.68,275.67 L428.07,275.42 L430.45,275.16 L432.83,274.87 L435.22,274.57 L437.60,274.25 L439.98,273.90 L442.37,273.54 L444.75,273.15 L447.13,272.73 L449.52,272.29 L451.90,271.82 L454.28,271.32 L456.67,270.79 L459.05,270.22 L461.43,269.62 L463.82,268.98 L466.20,268.30 L468.58,267.58 L470.97,266.82 L473.35,266.00 L475.73,265.14 L478.12,264.23 L480.50,263.26 L482.88,262.23 L485.27,261.14 L487.65,259.99 L490.03,258.77 L492.42,257.49 L494.80,256.12 L497.18,254.69 L499.57,253.17 L501.95,251.58 L504.33,249.89 L506.72,248.12 L509.10,246.26 L511.48,244.30 L513.87,242.25 L516.25,240.10 L518.63,237.84 L521.02,235.48 L523.40,233.02 L525.78,230.45 L528.17,227.76 L530.55,224.97 L532.93,222.07 L535.32,219.06 L537.70,215.94 L540.08,212.70 L542.47,209.37 L544.85,205.92 L547.23,202.38 L549.62,198.73 L552.00,194.99 L554.38,191.16 L556.77,187.24 L559.15,183.25 L561.53,179.18 L563.92,175.05 L566.30,170.86 L568.68,166.62 L571.07,162.33 L573.45,158.02 L575.83,153.68 L578.22,149.32 L580.60,144.96 L582.98,140.61 L585.37,136.27 L587.75,131.95 L590.13,127.66 L592.52,123.42 L594.90,119.22 L597.28,115.08 L599.67,111.01 L602.05,107.01 L604.43,103.08 L606.82,99.25 L609.20,95.50 L611.58,91.84 L613.97,88.29 L616.35,84.83 L618.73,81.49 L621.12,78.25 L623.50,75.11 L625.88,72.09 L628.27,69.18 L630.65,66.38 L633.03,63.69 L635.42,61.10 L637.80,58.63 L640.18,56.26 L642.57,54.00 L644.95,51.84 L647.33,49.77 L649.72,47.81 L652.10,45.94 L654.48,44.16 L656.87,42.47 L659.25,40.86 L661.63,39.34 L664.02,37.90 L666.40,36.53" stroke="#cf746e" class="ln"/>
<path d="M380.40,274.30 L382.78,273.96 L385.17,273.59 L387.55,273.21 L389.93,272.80 L392.32,272.36 L394.70,271.89 L397.08,271.40 L399.47,270.87 L401.85,270.31 L404.23,269.72 L406.62,269.08 L409.00,268.41 L411.38,267.70 L413.77,266.94 L416.15,266.13 L418.53,265.28 L420.92,264.37 L423.30,263.41 L425.68,262.39 L428.07,261.31 L430.45,260.17 L432.83,258.96 L435.22,257.69 L437.60,256.34 L439.98,254.91 L442.37,253.41 L444.75,251.82 L447.13,250.16 L449.52,248.40 L451.90,246.55 L454.28,244.61 L456.67,242.57 L459.05,240.43 L461.43,238.19 L463.82,235.85 L466.20,233.40 L468.58,230.84 L470.97,228.18 L473.35,225.40 L475.73,222.52 L478.12,219.52 L480.50,216.42 L482.88,213.20 L485.27,209.88 L487.65,206.45 L490.03,202.92 L492.42,199.29 L494.80,195.56 L497.18,191.75 L499.57,187.84 L501.95,183.86 L504.33,179.80 L506.72,175.68 L509.10,171.50 L511.48,167.26 L513.87,162.99 L516.25,158.67 L518.63,154.34 L521.02,149.98 L523.40,145.63 L525.78,141.27 L528.17,136.93 L530.55,132.60 L532.93,128.31 L535.32,124.06 L537.70,119.85 L540.08,115.71 L542.47,111.62 L544.85,107.61 L547.23,103.67 L549.62,99.82 L552.00,96.06 L554.38,92.39 L556.77,88.82 L559.15,85.35 L561.53,81.99 L563.92,78.73 L566.30,75.58 L568.68,72.54 L571.07,69.61 L573.45,66.80 L575.83,64.09 L578.22,61.49 L580.60,59.00 L582.98,56.61 L585.37,54.33 L587.75,52.16 L590.13,50.08 L592.52,48.10 L594.90,46.22 L597.28,44.42 L599.67,42.72 L602.05,41.10 L604.43,39.57 L606.82,38.11 L609.20,36.74 L611.58,35.43 L613.97,34.20 L616.35,33.03 L618.73,31.93 L621.12,30.88 L623.50,29.90 L625.88,28.97 L628.27,28.10 L630.65,27.27 L633.03,26.50 L635.42,25.77 L637.80,25.08 L640.18,24.43 L642.57,23.82 L644.95,23.24 L647.33,22.70 L649.72,22.20 L652.10,21.72 L654.48,21.27 L656.87,20.85 L659.25,20.45 L661.63,20.08 L664.02,19.73 L666.40,19.41" stroke="#b58822" class="ln"/>
<path d="M380.40,273.13 L382.78,272.72 L385.17,272.27 L387.55,271.80 L389.93,271.30 L392.32,270.77 L394.70,270.20 L397.08,269.60 L399.47,268.96 L401.85,268.28 L404.23,267.55 L406.62,266.79 L409.00,265.97 L411.38,265.11 L413.77,264.19 L416.15,263.22 L418.53,262.19 L420.92,261.10 L423.30,259.95 L425.68,258.73 L428.07,257.43 L430.45,256.07 L432.83,254.63 L435.22,253.11 L437.60,251.51 L439.98,249.83 L442.37,248.05 L444.75,246.19 L447.13,244.23 L449.52,242.17 L451.90,240.01 L454.28,237.76 L456.67,235.39 L459.05,232.92 L461.43,230.35 L463.82,227.66 L466.20,224.86 L468.58,221.96 L470.97,218.94 L473.35,215.82 L475.73,212.58 L478.12,209.24 L480.50,205.79 L482.88,202.24 L485.27,198.59 L487.65,194.85 L490.03,191.01 L492.42,187.09 L494.80,183.10 L497.18,179.03 L499.57,174.89 L501.95,170.70 L504.33,166.45 L506.72,162.17 L509.10,157.85 L511.48,153.51 L513.87,149.16 L516.25,144.80 L518.63,140.44 L521.02,136.10 L523.40,131.79 L525.78,127.50 L528.17,123.26 L530.55,119.06 L532.93,114.93 L535.32,110.85 L537.70,106.86 L540.08,102.94 L542.47,99.10 L544.85,95.36 L547.23,91.71 L549.62,88.15 L552.00,84.71 L554.38,81.36 L556.77,78.12 L559.15,75.00 L561.53,71.98 L563.92,69.07 L566.30,66.27 L568.68,63.59 L571.07,61.01 L573.45,58.54 L575.83,56.17 L578.22,53.91 L580.60,51.76 L582.98,49.70 L585.37,47.74 L587.75,45.87 L590.13,44.09 L592.52,42.41 L594.90,40.81 L597.28,39.29 L599.67,37.85 L602.05,36.48 L604.43,35.19 L606.82,33.97 L609.20,32.81 L611.58,31.72 L613.97,30.69 L616.35,29.72 L618.73,28.80 L621.12,27.94 L623.50,27.12 L625.88,26.35 L628.27,25.63 L630.65,24.95 L633.03,24.31 L635.42,23.71 L637.80,23.14 L640.18,22.60 L642.57,22.10 L644.95,21.63 L647.33,21.19 L649.72,20.77 L652.10,20.38 L654.48,20.02 L656.87,19.67 L659.25,19.35 L661.63,19.04 L664.02,18.76 L666.40,18.49" stroke="#889922" class="ln"/>
<path d="M380.40,276.52 L382.78,276.32 L385.17,276.12 L387.55,275.90 L389.93,275.66 L392.32,275.41 L394.70,275.14 L397.08,274.86 L399.47,274.56 L401.85,274.23 L404.23,273.89 L406.62,273.52 L409.00,273.13 L411.38,272.72 L413.77,272.27 L416.15,271.80 L418.53,271.30 L420.92,270.77 L423.30,270.20 L425.68,269.60 L428.07,268.96 L430.45,268.28 L432.83,267.55 L435.22,266.79 L437.60,265.97 L439.98,265.11 L442.37,264.19 L444.75,263.22 L447.13,262.19 L449.52,261.10 L451.90,259.95 L454.28,258.73 L456.67,257.43 L459.05,256.07 L461.43,254.63 L463.82,253.11 L466.20,251.51 L468.58,249.83 L470.97,248.05 L473.35,246.19 L475.73,244.23 L478.12,242.17 L480.50,240.01 L482.88,237.76 L485.27,235.39 L487.65,232.92 L490.03,230.35 L492.42,227.66 L494.80,224.86 L497.18,221.96 L499.57,218.94 L501.95,215.82 L504.33,212.58 L506.72,209.24 L509.10,205.79 L511.48,202.24 L513.87,198.59 L516.25,194.85 L518.63,191.01 L521.02,187.09 L523.40,183.10 L525.78,179.03 L528.17,174.89 L530.55,170.70 L532.93,166.45 L535.32,162.17 L537.70,157.85 L540.08,153.51 L542.47,149.16 L544.85,144.80 L547.23,140.44 L549.62,136.10 L552.00,131.79 L554.38,127.50 L556.77,123.26 L559.15,119.06 L561.53,114.93 L563.92,110.85 L566.30,106.86 L568.68,102.94 L571.07,99.10 L573.45,95.36 L575.83,91.71 L578.22,88.15 L580.60,84.71 L582.98,81.36 L585.37,78.12 L587.75,75.00 L590.13,71.98 L592.52,69.07 L594.90,66.27 L597.28,63.59 L599.67,61.01 L602.05,58.54 L604.43,56.17 L606.82,53.91 L609.20,51.76 L611.58,49.70 L613.97,47.74 L616.35,45.87 L618.73,44.09 L621.12,42.41 L623.50,40.81 L625.88,39.29 L628.27,37.85 L630.65,36.48 L633.03,35.19 L635.42,33.97 L637.80,32.81 L640.18,31.72 L642.57,30.69 L644.95,29.72 L647.33,28.80 L649.72,27.94 L652.10,27.12 L654.48,26.35 L656.87,25.63 L659.25,24.95 L661.63,24.31 L664.02,23.71 L666.40,23.14" stroke="#22a449" class="ln"/>
<path d="M380.40,270.84 L382.78,270.29 L385.17,269.71 L387.55,269.09 L389.93,268.43 L392.32,267.73 L394.70,266.99 L397.08,266.20 L399.47,265.36 L401.85,264.48 L404.23,263.55 L406.62,262.55 L409.00,261.51 L411.38,260.40 L413.77,259.23 L416.15,257.99 L418.53,256.68 L420.92,255.31 L423.30,253.85 L425.68,252.32 L428.07,250.71 L430.45,249.02 L432.83,247.24 L435.22,245.37 L437.60,243.41 L439.98,241.35 L442.37,239.20 L444.75,236.95 L447.13,234.59 L449.52,232.14 L451.90,229.58 L454.28,226.91 L456.67,224.14 L459.05,221.26 L461.43,218.28 L463.82,215.19 L466.20,212.00 L468.58,208.70 L470.97,205.30 L473.35,201.81 L475.73,198.22 L478.12,194.53 L480.50,190.77 L482.88,186.92 L485.27,182.99 L487.65,179.00 L490.03,174.94 L492.42,170.83 L494.80,166.67 L497.18,162.47 L499.57,158.24 L501.95,153.98 L504.33,149.71 L506.72,145.43 L509.10,141.16 L511.48,136.90 L513.87,132.66 L516.25,128.45 L518.63,124.27 L521.02,120.15 L523.40,116.07 L525.78,112.06 L528.17,108.11 L530.55,104.24 L532.93,100.45 L535.32,96.74 L537.70,93.13 L540.08,89.60 L542.47,86.18 L544.85,82.85 L547.23,79.63 L549.62,76.51 L552.00,73.49 L554.38,70.58 L556.77,67.78 L559.15,65.09 L561.53,62.50 L563.92,60.01 L566.30,57.63 L568.68,55.35 L571.07,53.16 L573.45,51.08 L575.83,49.09 L578.22,47.19 L580.60,45.39 L582.98,43.67 L585.37,42.03 L587.75,40.48 L590.13,39.01 L592.52,37.61 L594.90,36.28 L597.28,35.02 L599.67,33.83 L602.05,32.71 L604.43,31.64 L606.82,30.64 L609.20,29.69 L611.58,28.79 L613.97,27.94 L616.35,27.14 L618.73,26.38 L621.12,25.67 L623.50,25.00 L625.88,24.37 L628.27,23.77 L630.65,23.21 L633.03,22.68 L635.42,22.19 L637.80,21.72 L640.18,21.28 L642.57,20.87 L644.95,20.48 L647.33,20.11 L649.72,19.77 L652.10,19.44 L654.48,19.14 L656.87,18.85 L659.25,18.59 L661.63,18.33 L664.02,18.10 L666.40,17.88" stroke="#22a991" class="ln"/>
<path d="M380.40,268.72 L382.78,268.04 L385.17,267.32 L387.55,266.55 L389.93,265.74 L392.32,264.87 L394.70,263.96 L397.08,263.00 L399.47,261.97 L401.85,260.89 L404.23,259.75 L406.62,258.54 L409.00,257.27 L411.38,255.92 L413.77,254.50 L416.15,253.01 L418.53,251.43 L420.92,249.77 L423.30,248.03 L425.68,246.20 L428.07,244.28 L430.45,242.26 L432.83,240.15 L435.22,237.95 L437.60,235.64 L439.98,233.23 L442.37,230.71 L444.75,228.09 L447.13,225.37 L449.52,222.54 L451.90,219.60 L454.28,216.56 L456.67,213.41 L459.05,210.16 L461.43,206.80 L463.82,203.35 L466.20,199.80 L468.58,196.16 L470.97,192.43 L473.35,188.62 L475.73,184.72 L478.12,180.76 L480.50,176.73 L482.88,172.64 L485.27,168.50 L487.65,164.32 L490.03,160.10 L492.42,155.85 L494.80,151.58 L497.18,147.31 L499.57,143.03 L501.95,138.77 L504.33,134.51 L506.72,130.29 L509.10,126.10 L511.48,121.95 L513.87,117.85 L516.25,113.81 L518.63,109.84 L521.02,105.93 L523.40,102.10 L525.78,98.36 L528.17,94.70 L530.55,91.14 L532.93,87.67 L535.32,84.30 L537.70,81.03 L540.08,77.86 L542.47,74.80 L544.85,71.85 L547.23,69.00 L549.62,66.26 L552.00,63.62 L554.38,61.09 L556.77,58.66 L559.15,56.33 L561.53,54.11 L563.92,51.98 L566.30,49.95 L568.68,48.02 L571.07,46.17 L573.45,44.41 L575.83,42.74 L578.22,41.15 L580.60,39.64 L582.98,38.21 L585.37,36.85 L587.75,35.57 L590.13,34.35 L592.52,33.19 L594.90,32.10 L597.28,31.07 L599.67,30.10 L602.05,29.17 L604.43,28.30 L606.82,27.48 L609.20,26.71 L611.58,25.98 L613.97,25.29 L616.35,24.64 L618.73,24.03 L621.12,23.45 L623.50,22.91 L625.88,22.40 L628.27,21.92 L630.65,21.47 L633.03,21.04 L635.42,20.64 L637.80,20.27 L640.18,19.91 L642.57,19.58 L644.95,19.27 L647.33,18.98 L649.72,18.70 L652.10,18.44 L654.48,18.20 L656.87,17.97 L659.25,17.76 L661.63,17.56 L664.02,17.37 L666.40,17.19" stroke="#22a3c0" class="ln"/>
<path d="M380.40,275.75 L382.78,275.50 L385.17,275.24 L387.55,274.96 L389.93,274.67 L392.32,274.35 L394.70,274.01 L397.08,273.66 L399.47,273.27 L401.85,272.87 L404.23,272.43 L406.62,271.97 L409.00,271.48 L411.38,270.96 L413.77,270.41 L416.15,269.82 L418.53,269.19 L420.92,268.52 L423.30,267.82 L425.68,267.06 L428.07,266.27 L430.45,265.42 L432.83,264.52 L435.22,263.57 L437.60,262.56 L439.98,261.49 L442.37,260.36 L444.75,259.17 L447.13,257.90 L449.52,256.56 L451.90,255.15 L454.28,253.66 L456.67,252.09 L459.05,250.44 L461.43,248.69 L463.82,246.86 L466.20,244.93 L468.58,242.91 L470.97,240.79 L473.35,238.57 L475.73,236.24 L478.12,233.81 L480.50,231.27 L482.88,228.63 L485.27,225.87 L487.65,223.00 L490.03,220.02 L492.42,216.94 L494.80,213.74 L497.18,210.43 L499.57,207.02 L501.95,203.51 L504.33,199.89 L506.72,196.18 L509.10,192.38 L511.48,188.49 L513.87,184.52 L516.25,180.48 L518.63,176.36 L521.02,172.19 L523.40,167.96 L525.78,163.69 L528.17,159.39 L530.55,155.05 L532.93,150.70 L535.32,146.34 L537.70,141.99 L540.08,137.64 L542.47,133.31 L544.85,129.01 L547.23,124.76 L549.62,120.54 L552.00,116.38 L554.38,112.29 L556.77,108.26 L559.15,104.32 L561.53,100.45 L563.92,96.67 L566.30,92.99 L568.68,89.40 L571.07,85.92 L573.45,82.53 L575.83,79.26 L578.22,76.09 L580.60,73.04 L582.98,70.09 L585.37,67.25 L587.75,64.53 L590.13,61.91 L592.52,59.40 L594.90,57.00 L597.28,54.70 L599.67,52.51 L602.05,50.42 L604.43,48.42 L606.82,46.52 L609.20,44.71 L611.58,42.99 L613.97,41.36 L616.35,39.82 L618.73,38.35 L621.12,36.96 L623.50,35.64 L625.88,34.39 L628.27,33.22 L630.65,32.10 L633.03,31.05 L635.42,30.06 L637.80,29.12 L640.18,28.24 L642.57,27.41 L644.95,26.62 L647.33,25.88 L649.72,25.19 L652.10,24.53 L654.48,23.92 L656.87,23.34 L659.25,22.79 L661.63,22.28 L664.02,21.80 L666.40,21.34" stroke="#668fd4" class="ln"/>
<path d="M380.40,275.85 L382.78,275.62 L385.17,275.36 L387.55,275.09 L389.93,274.80 L392.32,274.50 L394.70,274.17 L397.08,273.82 L399.47,273.45 L401.85,273.06 L404.23,272.63 L406.62,272.19 L409.00,271.71 L411.38,271.20 L413.77,270.66 L416.15,270.09 L418.53,269.48 L420.92,268.83 L423.30,268.14 L425.68,267.41 L428.07,266.64 L430.45,265.81 L432.83,264.94 L435.22,264.01 L437.60,263.03 L439.98,261.99 L442.37,260.89 L444.75,259.72 L447.13,258.49 L449.52,257.18 L451.90,255.80 L454.28,254.35 L456.67,252.82 L459.05,251.20 L461.43,249.50 L463.82,247.71 L466.20,245.82 L468.58,243.85 L470.97,241.77 L473.35,239.59 L475.73,237.32 L478.12,234.93 L480.50,232.44 L482.88,229.85 L485.27,227.14 L487.65,224.32 L490.03,221.39 L492.42,218.36 L494.80,215.21 L497.18,211.95 L499.57,208.59 L501.95,205.12 L504.33,201.55 L506.72,197.89 L509.10,194.13 L511.48,190.28 L513.87,186.34 L516.25,182.33 L518.63,178.25 L521.02,174.10 L523.40,169.89 L525.78,165.64 L528.17,161.35 L530.55,157.03 L532.93,152.69 L535.32,148.33 L537.70,143.97 L540.08,139.62 L542.47,135.28 L544.85,130.97 L547.23,126.69 L549.62,122.46 L552.00,118.27 L554.38,114.15 L556.77,110.09 L559.15,106.11 L561.53,102.20 L563.92,98.38 L566.30,94.66 L568.68,91.02 L571.07,87.49 L573.45,84.06 L575.83,80.74 L578.22,77.52 L580.60,74.42 L582.98,71.42 L585.37,68.53 L587.75,65.76 L590.13,63.09 L592.52,60.53 L594.90,58.08 L597.28,55.74 L599.67,53.50 L602.05,51.36 L604.43,49.32 L606.82,47.37 L609.20,45.52 L611.58,43.77 L613.97,42.10 L616.35,40.51 L618.73,39.01 L621.12,37.58 L623.50,36.23 L625.88,34.95 L628.27,33.75 L630.65,32.60 L633.03,31.52 L635.42,30.50 L637.80,29.54 L640.18,28.64 L642.57,27.78 L644.95,26.97 L647.33,26.21 L649.72,25.50 L652.10,24.83 L654.48,24.19 L656.87,23.60 L659.25,23.03 L661.63,22.51 L664.02,22.01 L666.40,21.55" stroke="#bb71d1" class="ln"/>
<path d="M380.40,275.96 L382.78,275.73 L385.17,275.48 L387.55,275.22 L389.93,274.94 L392.32,274.64 L394.70,274.32 L397.08,273.98 L399.47,273.62 L401.85,273.24 L404.23,272.83 L406.62,272.39 L409.00,271.93 L411.38,271.44 L413.77,270.91 L416.15,270.36 L418.53,269.76 L420.92,269.13 L423.30,268.46 L425.68,267.75 L428.07,267.00 L430.45,266.19 L432.83,265.34 L435.22,264.44 L437.60,263.48 L439.98,262.47 L442.37,261.40 L444.75,260.26 L447.13,259.06 L449.52,257.78 L451.90,256.44 L454.28,255.02 L456.67,253.53 L459.05,251.95 L461.43,250.28 L463.82,248.53 L466.20,246.69 L468.58,244.76 L470.97,242.73 L473.35,240.60 L475.73,238.37 L478.12,236.03 L480.50,233.59 L482.88,231.04 L485.27,228.39 L487.65,225.62 L490.03,222.74 L492.42,219.75 L494.80,216.66 L497.18,213.45 L499.57,210.14 L501.95,206.72 L504.33,203.19 L506.72,199.57 L509.10,195.85 L511.48,192.04 L513.87,188.14 L516.25,184.17 L518.63,180.11 L521.02,176.00 L523.40,171.82 L525.78,167.59 L528.17,163.31 L530.55,159.00 L532.93,154.67 L535.32,150.32 L537.70,145.96 L540.08,141.60 L542.47,137.25 L544.85,132.93 L547.23,128.64 L549.62,124.38 L552.00,120.17 L554.38,116.02 L556.77,111.93 L559.15,107.91 L561.53,103.97 L563.92,100.11 L566.30,96.34 L568.68,92.67 L571.07,89.09 L573.45,85.61 L575.83,82.24 L578.22,78.97 L580.60,75.82 L582.98,72.77 L585.37,69.83 L587.75,67.01 L590.13,64.29 L592.52,61.68 L594.90,59.18 L597.28,56.79 L599.67,54.50 L602.05,52.32 L604.43,50.23 L606.82,48.25 L609.20,46.36 L611.58,44.56 L613.97,42.85 L616.35,41.22 L618.73,39.68 L621.12,38.22 L623.50,36.84 L625.88,35.53 L628.27,34.29 L630.65,33.12 L633.03,32.01 L635.42,30.96 L637.80,29.97 L640.18,29.04 L642.57,28.16 L644.95,27.34 L647.33,26.55 L649.72,25.82 L652.10,25.13 L654.48,24.48 L656.87,23.86 L659.25,23.29 L661.63,22.74 L664.02,22.23 L666.40,21.75" stroke="#d466aa" class="ln"/>
<rect x="366.3" y="3.9" width="314.60" height="287.50" fill="none" class="bd"/>
<line x1="366.3" x2="366.3" y1="3.9" y2="291.84999999999997" class="ax"/>
<line x1="365.85" x2="680.9" y1="291.4" y2="291.4" class="ax"/>
<line x1="364.50" x2="366.3" y1="279.40" y2="279.40" class="tk"/>
<text x="363.40" y="281.70" class="tl" text-anchor="end">0.00</text>
<line x1="364.50" x2="366.3" y1="213.17" y2="213.17" class="tk"/>
<text x="363.40" y="215.47" class="tl" text-anchor="end">0.25</text>
<line x1="364.50" x2="366.3" y1="146.95" y2="146.95" class="tk"/>
<text x="363.40" y="149.25" class="tl" text-anchor="end">0.50</text>
<line x1="364.50" x2="366.3" y1="80.72" y2="80.72" class="tk"/>
<text x="363.40" y="83.02" class="tl" text-anchor="end">0.75</text>
<line x1="364.50" x2="366.3" y1="14.50" y2="14.50" class="tk"/>
<text x="363.40" y="16.80" class="tl" text-anchor="end">1.00</text>
<line x1="380.40" x2="380.40" y1="291.4" y2="293.20" class="tk"/>
<text x="380.40" y="298.90" class="tl" text-anchor="middle">0.0</text>
<line x1="451.90" x2="451.90" y1="291.4" y2="293.20" class="tk"/>
<text x="451.90" y="298.90" class="tl" text-anchor="middle">2.5</text>
<line x1="523.40" x2="523.40" y1="291.4" y2="293.20" class="tk"/>
<text x="523.40" y="298.90" class="tl" text-anchor="middle">5.0</text>
<line x1="594.90" x2="594.90" y1="291.4" y2="293.20" class="tk"/>
<text x="594.90" y="298.90" class="tl" text-anchor="middle">7.5</text>
<line x1="666.40" x2="666.40" y1="291.4" y2="293.20" class="tk"/>
<text x="666.40" y="298.90" class="tl" text-anchor="middle">10.0</text>
<text x="180.7" y="306.6" class="at" text-anchor="middle">Log10(body titer)</text>
<text x="523.6" y="306.6" class="at" text-anchor="middle">Log10(head titer)</text>
<text transform="translate(6.7,147.5) rotate(-90)" class="at" text-anchor="middle">Prob. of presence in head</text>
<text transform="translate(349.7,147.5) rotate(-90)" class="at" text-anchor="middle">Prob. of presence in saliva</text>
<text transform="translate(1.3,10.0) scale(0.86,1)" class="pl">a</text>
<text transform="translate(344.4,9.5) scale(0.86,1)" class="pl">b</text>
<text x="165.6" y="329.6" class="lt">Mosquito</text>
<rect x="196.0" y="316.70" width="9.7" height="10.0" class="kb"/>
<line x1="196.80" x2="204.90" y1="321.70" y2="321.70" stroke="#cf746e" class="ln"/>
<text x="208.9" y="323.65" class="ll">Canton (China)</text>
<rect x="196.0" y="326.70" width="9.7" height="10.0" class="kb"/>
<line x1="196.80" x2="204.90" y1="331.70" y2="331.70" stroke="#b58822" class="ln"/>
<text x="208.9" y="333.65" class="ll">Cesena 3+4 (Italy)</text>
<rect x="257.0" y="316.70" width="9.7" height="10.0" class="kb"/>
<line x1="257.80" x2="265.90" y1="321.70" y2="321.70" stroke="#889922" class="ln"/>
<text x="269.7" y="323.65" class="ll">Cesena 9 (Italy)</text>
<rect x="257.0" y="326.70" width="9.7" height="10.0" class="kb"/>
<line x1="257.80" x2="265.90" y1="331.70" y2="331.70" stroke="#22a449" class="ln"/>
<text x="269.7" y="333.65" class="ll">Arogno (Switzerland)</text>
<rect x="323.8" y="316.70" width="9.7" height="10.0" class="kb"/>
<line x1="324.60" x2="332.70" y1="321.70" y2="321.70" stroke="#22a991" class="ln"/>
<text x="337.0" y="323.65" class="ll">Tenero C. (Switzerland)</text>
<rect x="323.8" y="326.70" width="9.7" height="10.0" class="kb"/>
<line x1="324.60" x2="332.70" y1="331.70" y2="331.70" stroke="#22a3c0" class="ln"/>
<text x="337.0" y="333.65" class="ll">Faliro (Greece)</text>
<rect x="395.9" y="316.70" width="9.7" height="10.0" class="kb"/>
<line x1="396.70" x2="404.80" y1="321.70" y2="321.70" stroke="#668fd4" class="ln"/>
<text x="409.3" y="323.65" class="ll">Mirogoji K. (Croatia)</text>
<rect x="395.9" y="326.70" width="9.7" height="10.0" class="kb"/>
<line x1="396.70" x2="404.80" y1="331.70" y2="331.70" stroke="#bb71d1" class="ln"/>
<text x="409.3" y="333.65" class="ll">Tivat (Montenegro)</text>
<rect x="460.7" y="316.70" width="9.7" height="10.0" class="kb"/>
<line x1="461.50" x2="469.60" y1="321.70" y2="321.70" stroke="#d466aa" class="ln"/>
<text x="473.9" y="323.65" class="ll">Velika G. (Croatia)</text>
</svg>
</body></html>
